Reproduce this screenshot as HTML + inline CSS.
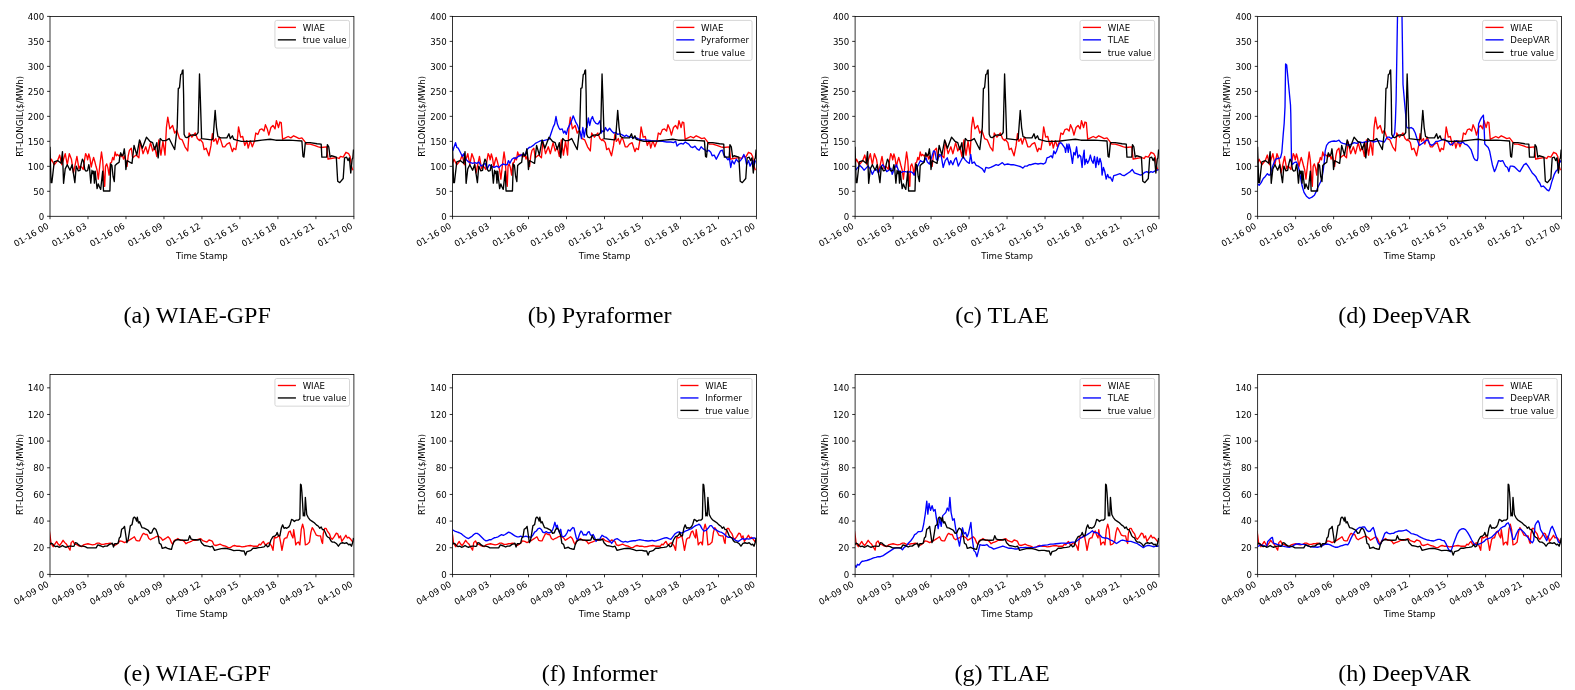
<!DOCTYPE html>
<html><head><meta charset="utf-8"><title>Figure</title>
<style>html,body{margin:0;padding:0;background:#fff;width:1575px;height:690px;overflow:hidden}svg{display:block;will-change:transform}</style>
</head><body>
<svg width="1575" height="690" viewBox="0 0 1575 690">
<g font-family="'DejaVu Sans', sans-serif" font-size="8.6" fill="#000">
<clipPath id="ca"><rect x="50" y="16.4" width="303.9" height="199.9"/></clipPath>
<polyline clip-path="url(#ca)" fill="none" stroke="#ff0000" stroke-width="1.35" stroke-linejoin="round" points="49.93,163.33 51.44,159.2 54.2,164.71 57.64,160.58 59.7,155.07 61.77,164.71 65.21,153.7 67.28,164.71 69.34,153.7 71.41,159.2 73.47,172.97 76.91,156.45 78.98,168.84 80,166.3 81.6,167 83.2,169.5 84.4,160.7 85.6,153.6 86.8,156 87.6,159.9 88.8,154 90,158.3 91.2,167.1 92.4,161.5 93.6,157.5 94.8,161.5 96,166.3 97.1,170.3 98.3,179.1 99.9,164.7 101.5,152 102.7,160.7 103.9,179.9 104.7,186.3 105.5,166.3 106.7,163.9 107.9,167.9 109.1,175.1 110.3,163.1 111.5,162.3 112.7,157.5 113.9,159.9 115.1,152 116.3,155.9 117.5,154.4 118.7,155.9 119.9,155.2 121.1,156.7 122.3,154.4 123.5,159.1 124.7,156 125.9,160.7 127,166.3 128.2,156 129.4,150.4 131.3,148.19 132.67,157.83 136.12,155.07 138.87,157.83 140.25,141.3 143,153.7 145.75,146.81 147.82,153.7 150.57,142.68 152.64,150.94 154.7,146.81 156.77,156.45 158.83,139.93 160.9,155.07 162.96,141.3 165.03,155.07 166.41,127.54 167.78,117.21 169.85,128.91 172.6,125.47 174.67,133.04 176.73,130.29 179.49,138.55 182.24,139.93 184.99,146.81 187.75,150.94 189.12,133.04 191.88,137.17 195.32,133.04 197.38,138.55 199.45,140.62 200,139.24 202.75,142.68 204.13,149.57 206.2,148.19 208.95,155.76 211.02,145.44 212.39,133.73 213.77,141.31 215.83,138.55 217.21,144.06 219.28,137.18 220.65,139.93 222.72,146.81 224.78,146.81 226.85,144.06 229.6,142.68 232.36,151.63 233.73,148.19 235.8,149.57 237.18,141.31 238.55,126.85 240.62,137.18 242.68,136.49 244.75,145.44 246.81,140.62 248.19,148.19 250.26,140.62 252.32,146.81 254.39,141.31 255.76,133.05 257.83,134.42 259.89,129.6 261.96,128.91 264.02,130.98 265.4,124.78 267.47,129.6 268.84,135.11 270.91,127.54 272.97,125.47 275.04,128.91 276.42,120.65 278.48,127.54 279.86,122.03 281.24,122.72 282.61,139.24 285.37,137.86 288.12,136.49 290.87,137.86 293.63,135.8 296.38,137.18 299.14,138.55 301.89,137.86 304.64,141.31 306.71,144.06 310.15,144.06 314.28,145.44 318.41,146.81 321.17,147.5 326.67,146.81 328.05,159.21 330.8,158.52 334.93,157.83 337.69,157.83 339.06,158.52 340.44,156.45 343.2,157.14 345.95,152.32 348.7,153.7 350.08,156.45 351.46,166.09 352.83,170.22"/>
<polyline clip-path="url(#ca)" fill="none" stroke="#000000" stroke-width="1.35" stroke-linejoin="round" points="49.93,146.81 51.03,182.61 51.86,182.61 54.2,161.96 57.64,160.58 61.08,163.33 62.46,151.63 63.56,183.3 65.21,168.84 67.28,164.71 70.03,170.22 72.09,164.71 74.85,182.61 76.22,166.09 78.29,170.91 80,170.3 81.2,163.9 82.4,159.1 83.6,161.5 84.8,169.5 86,171.1 87.6,170.7 88.8,164.7 89.6,168.7 90.8,183.1 92,170.3 92.8,173.5 93.6,171.1 94.4,183.1 95.2,171.1 95.9,178.3 97.1,188.6 98.3,183.9 99.5,187 100.7,189.4 101.9,178.3 102.7,171.1 103.5,191 109.9,191 110.7,163.9 111.9,165.5 113.1,176.7 114.3,181.5 115.1,165.5 116.7,163.9 117.9,163.1 119.1,162.3 119.9,155.9 120.7,152.8 121.9,155.9 123.1,155.2 124.3,148.8 125.1,155.9 125.9,169.5 127.1,160.7 128.6,161.5 131.99,163.33 134.05,145.43 136.8,155.07 139.56,139.93 142.31,148.19 146.44,137.17 149.88,141.3 152.64,142.68 154.7,149.57 156.77,142.68 158.14,157.83 160.21,138.55 162.28,140.62 165.72,140.62 169.16,138.55 172.6,145.43 174.67,149.57 176.73,131.67 177.2,127.3 178.3,88.4 179.5,87.8 180.7,74.5 181.8,73.9 182.4,70.4 183,69.9 183.6,94.8 184.1,134.2 185.3,137.1 187,137.7 189,136.4 190,135.4 192.8,134.8 195.2,135.4 196.9,134.2 198.1,132.5 199.5,74 200.4,100 201.6,138 201.38,138.55 211.7,139.93 213.08,138.55 215.15,110.33 216.52,127.54 217.9,136.49 220.65,137.86 226.85,137.86 228.91,133.73 230.29,138.55 232.36,135.8 233.73,139.24 235.8,139.93 241.31,141.31 248.19,141.31 255.08,141.03 261.96,140.2 270.22,139.24 275.73,140.2 282.61,140.2 289.5,140.2 296.38,140.62 301.89,141.03 302.99,156.45 303.95,157.14 305.33,142.68 310.15,142.68 317.03,143.78 321.17,144.06 321.85,157.14 326.67,157.14 327.36,144.75 328.74,146.81 330.11,157.14 331.49,155.76 336.31,157.14 337.69,181.24 339.75,182.61 343.2,178.48 344.57,157.83 346.64,157.14 348.01,160.58 349.39,157.83 350.77,172.97 352.14,159.21 352.83,157.83 353.52,149.57"/>
<rect x="50" y="16.4" width="303.9" height="199.9" fill="none" stroke="#000" stroke-width="0.8"/>
<text x="44.2" y="219.6" text-anchor="end">0</text>
<text x="44.2" y="194.61" text-anchor="end">50</text>
<text x="44.2" y="169.63" text-anchor="end">100</text>
<text x="44.2" y="144.64" text-anchor="end">150</text>
<text x="44.2" y="119.65" text-anchor="end">200</text>
<text x="44.2" y="94.66" text-anchor="end">250</text>
<text x="44.2" y="69.67" text-anchor="end">300</text>
<text x="44.2" y="44.69" text-anchor="end">350</text>
<text x="44.2" y="19.7" text-anchor="end">400</text>
<text transform="translate(49.4,227.8) rotate(-30)" text-anchor="end">01-16 00</text>
<text transform="translate(87.39,227.8) rotate(-30)" text-anchor="end">01-16 03</text>
<text transform="translate(125.38,227.8) rotate(-30)" text-anchor="end">01-16 06</text>
<text transform="translate(163.36,227.8) rotate(-30)" text-anchor="end">01-16 09</text>
<text transform="translate(201.35,227.8) rotate(-30)" text-anchor="end">01-16 12</text>
<text transform="translate(239.34,227.8) rotate(-30)" text-anchor="end">01-16 15</text>
<text transform="translate(277.32,227.8) rotate(-30)" text-anchor="end">01-16 18</text>
<text transform="translate(315.31,227.8) rotate(-30)" text-anchor="end">01-16 21</text>
<text transform="translate(353.3,227.8) rotate(-30)" text-anchor="end">01-17 00</text>
<path d="M47.1,216.3H50 M47.1,191.31H50 M47.1,166.33H50 M47.1,141.34H50 M47.1,116.35H50 M47.1,91.36H50 M47.1,66.38H50 M47.1,41.39H50 M47.1,16.4H50 M50,216.3V219.2 M87.99,216.3V219.2 M125.97,216.3V219.2 M163.96,216.3V219.2 M201.95,216.3V219.2 M239.94,216.3V219.2 M277.92,216.3V219.2 M315.91,216.3V219.2 M353.9,216.3V219.2" stroke="#000" stroke-width="0.8" fill="none"/>
<text x="201.95" y="259" text-anchor="middle">Time Stamp</text>
<text transform="translate(22.8,116.35) rotate(-90)" text-anchor="middle">RT-LONGIL($/MWh)</text>
<rect x="274.93" y="20.4" width="74.57" height="27.65" rx="1.8" fill="#fff" fill-opacity="0.8" stroke="#ccc" stroke-width="0.8"/>
<path d="M277.83,27.4h18.1" stroke="#ff0000" stroke-width="1.35"/>
<text x="302.63" y="30.6">WIAE</text>
<path d="M277.83,39.85h18.1" stroke="#000000" stroke-width="1.35"/>
<text x="302.63" y="43.05">true value</text>
</g>
<text x="197.2" y="322.8" text-anchor="middle" font-family="'Liberation Serif', serif" font-size="24.1">(a) WIAE-GPF</text>
<g font-family="'DejaVu Sans', sans-serif" font-size="8.6" fill="#000">
<clipPath id="cb"><rect x="452.55" y="16.4" width="303.9" height="199.9"/></clipPath>
<polyline clip-path="url(#cb)" fill="none" stroke="#ff0000" stroke-width="1.35" stroke-linejoin="round" points="452.48,163.33 453.99,159.2 456.75,164.71 460.19,160.58 462.25,155.07 464.32,164.71 467.76,153.7 469.83,164.71 471.89,153.7 473.96,159.2 476.02,172.97 479.46,156.45 481.53,168.84 482.55,166.3 484.15,167 485.75,169.5 486.95,160.7 488.15,153.6 489.35,156 490.15,159.9 491.35,154 492.55,158.3 493.75,167.1 494.95,161.5 496.15,157.5 497.35,161.5 498.55,166.3 499.65,170.3 500.85,179.1 502.45,164.7 504.05,152 505.25,160.7 506.45,179.9 507.25,186.3 508.05,166.3 509.25,163.9 510.45,167.9 511.65,175.1 512.85,163.1 514.05,162.3 515.25,157.5 516.45,159.9 517.65,152 518.85,155.9 520.05,154.4 521.25,155.9 522.45,155.2 523.65,156.7 524.85,154.4 526.05,159.1 527.25,156 528.45,160.7 529.55,166.3 530.75,156 531.95,150.4 533.85,148.19 535.22,157.83 538.67,155.07 541.42,157.83 542.8,141.3 545.55,153.7 548.3,146.81 550.37,153.7 553.12,142.68 555.19,150.94 557.25,146.81 559.32,156.45 561.38,139.93 563.45,155.07 565.51,141.3 567.58,155.07 568.96,127.54 570.33,117.21 572.4,128.91 575.15,125.47 577.22,133.04 579.28,130.29 582.04,138.55 584.79,139.93 587.54,146.81 590.3,150.94 591.67,133.04 594.43,137.17 597.87,133.04 599.93,138.55 602,140.62 602.55,139.24 605.3,142.68 606.68,149.57 608.75,148.19 611.5,155.76 613.57,145.44 614.94,133.73 616.32,141.31 618.38,138.55 619.76,144.06 621.83,137.18 623.2,139.93 625.27,146.81 627.33,146.81 629.4,144.06 632.15,142.68 634.91,151.63 636.28,148.19 638.35,149.57 639.73,141.31 641.1,126.85 643.17,137.18 645.23,136.49 647.3,145.44 649.36,140.62 650.74,148.19 652.81,140.62 654.87,146.81 656.94,141.31 658.31,133.05 660.38,134.42 662.44,129.6 664.51,128.91 666.57,130.98 667.95,124.78 670.02,129.6 671.39,135.11 673.46,127.54 675.52,125.47 677.59,128.91 678.97,120.65 681.03,127.54 682.41,122.03 683.79,122.72 685.16,139.24 687.92,137.86 690.67,136.49 693.42,137.86 696.18,135.8 698.93,137.18 701.69,138.55 704.44,137.86 707.19,141.31 709.26,144.06 712.7,144.06 716.83,145.44 720.96,146.81 723.72,147.5 729.22,146.81 730.6,159.21 733.35,158.52 737.48,157.83 740.24,157.83 741.61,158.52 742.99,156.45 745.75,157.14 748.5,152.32 751.25,153.7 752.63,156.45 754.01,166.09 755.38,170.22"/>
<polyline clip-path="url(#cb)" fill="none" stroke="#0000ff" stroke-width="1.35" stroke-linejoin="round" points="452.75,150.93 455.51,142.67 456.88,147.49 458.26,148.18 460.32,152.31 462.39,156.44 463.77,153.69 465.14,157.82 466.52,159.88 468.58,161.94 470.65,162.63 472.71,163.32 474.78,162.63 476.84,163.32 478.91,161.94 480.97,166.07 483.04,164.7 485.1,163.32 487.17,168.83 489.23,164.7 491.3,166.07 494.05,167.45 496.8,166.07 498.87,167.45 500.93,165.39 503,164.01 505.06,164.7 507.13,164.7 508.5,160.57 509.88,163.32 511.94,159.19 514.01,157.82 516.07,158.5 518.14,156.44 520.2,155.75 522.27,154.37 525.02,155.06 527.09,149.56 529.15,147.49 531.22,146.8 533.28,145.43 535.35,143.36 538.1,141.98 540.85,140.61 543.61,140.61 546.36,139.92 549.11,139.23 551.18,133.04 553.24,126.84 554.62,124.09 555.99,116.52 557.37,124.09 558.75,127.53 560.12,129.6 562.19,128.91 563.57,133.04 564.94,130.97 566.32,134.41 567.7,128.91 569.07,126.15 570.45,123.4 571.83,119.96 573.2,115.83 574.58,119.27 575.95,122.71 577.33,124.78 578.71,128.91 580.08,131.66 581.46,138.54 582.84,127.53 584.21,137.17 585.59,128.91 586.97,127.53 588.34,117.9 589.72,125.47 591.1,119.27 592.47,116.52 593.85,120.65 595.91,123.4 597.98,124.09 600.04,120.65 601.42,133.04 602,130.98 604.07,131.67 605.44,127.54 607.51,130.98 609.57,128.23 611.64,130.98 613.7,133.05 615.77,132.36 617.83,134.42 619.9,133.73 622.65,135.11 624.72,136.49 626.1,135.11 628.16,136.49 630.91,137.18 633.67,137.86 636.42,137.86 639.18,139.24 641.93,139.93 644.68,139.93 647.44,140.2 651.57,140.62 657.08,141.03 662.58,141.31 666.71,141.99 670.84,141.99 673.6,142.68 675.66,141.31 677.04,146.13 679.11,144.06 681.17,143.37 683.24,144.06 685.3,141.99 687.37,143.37 688.74,144.06 690.81,146.81 692.87,147.5 694.94,146.13 697,148.88 699.07,150.26 701.14,146.81 703.2,148.88 704.58,149.57 706.64,151.63 708.71,150.26 710.77,152.32 712.15,155.76 714.22,155.08 716.28,159.21 718.35,155.08 720.41,150.94 722.48,150.26 723.85,155.08 725.92,157.14 727.98,159.89 729.36,157.83 730.74,167.47 732.11,160.58 734.18,164.02 736.25,159.21 738.31,161.96 740.38,160.58 742.44,157.83 743.82,154.39 745.2,157.83 746.57,164.71 748.64,160.58 750.01,166.09 751.39,163.34 752.77,160.58 754.14,164.71 755.52,160.58"/>
<polyline clip-path="url(#cb)" fill="none" stroke="#000000" stroke-width="1.35" stroke-linejoin="round" points="452.48,146.81 453.58,182.61 454.41,182.61 456.75,161.96 460.19,160.58 463.63,163.33 465.01,151.63 466.11,183.3 467.76,168.84 469.83,164.71 472.58,170.22 474.64,164.71 477.4,182.61 478.77,166.09 480.84,170.91 482.55,170.3 483.75,163.9 484.95,159.1 486.15,161.5 487.35,169.5 488.55,171.1 490.15,170.7 491.35,164.7 492.15,168.7 493.35,183.1 494.55,170.3 495.35,173.5 496.15,171.1 496.95,183.1 497.75,171.1 498.45,178.3 499.65,188.6 500.85,183.9 502.05,187 503.25,189.4 504.45,178.3 505.25,171.1 506.05,191 512.45,191 513.25,163.9 514.45,165.5 515.65,176.7 516.85,181.5 517.65,165.5 519.25,163.9 520.45,163.1 521.65,162.3 522.45,155.9 523.25,152.8 524.45,155.9 525.65,155.2 526.85,148.8 527.65,155.9 528.45,169.5 529.65,160.7 531.15,161.5 534.54,163.33 536.6,145.43 539.35,155.07 542.11,139.93 544.86,148.19 548.99,137.17 552.43,141.3 555.19,142.68 557.25,149.57 559.32,142.68 560.69,157.83 562.76,138.55 564.83,140.62 568.27,140.62 571.71,138.55 575.15,145.43 577.22,149.57 579.28,131.67 579.75,127.3 580.85,88.4 582.05,87.8 583.25,74.5 584.35,73.9 584.95,70.4 585.55,69.9 586.15,94.8 586.65,134.2 587.85,137.1 589.55,137.7 591.55,136.4 592.55,135.4 595.35,134.8 597.75,135.4 599.45,134.2 600.65,132.5 602.05,74 602.95,100 604.15,138 603.93,138.55 614.25,139.93 615.63,138.55 617.7,110.33 619.07,127.54 620.45,136.49 623.2,137.86 629.4,137.86 631.46,133.73 632.84,138.55 634.91,135.8 636.28,139.24 638.35,139.93 643.86,141.31 650.74,141.31 657.63,141.03 664.51,140.2 672.77,139.24 678.28,140.2 685.16,140.2 692.05,140.2 698.93,140.62 704.44,141.03 705.54,156.45 706.5,157.14 707.88,142.68 712.7,142.68 719.58,143.78 723.72,144.06 724.4,157.14 729.22,157.14 729.91,144.75 731.29,146.81 732.66,157.14 734.04,155.76 738.86,157.14 740.24,181.24 742.3,182.61 745.75,178.48 747.12,157.83 749.19,157.14 750.56,160.58 751.94,157.83 753.32,172.97 754.69,159.21 755.38,157.83 756.07,149.57"/>
<rect x="452.55" y="16.4" width="303.9" height="199.9" fill="none" stroke="#000" stroke-width="0.8"/>
<text x="446.75" y="219.6" text-anchor="end">0</text>
<text x="446.75" y="194.61" text-anchor="end">50</text>
<text x="446.75" y="169.63" text-anchor="end">100</text>
<text x="446.75" y="144.64" text-anchor="end">150</text>
<text x="446.75" y="119.65" text-anchor="end">200</text>
<text x="446.75" y="94.66" text-anchor="end">250</text>
<text x="446.75" y="69.67" text-anchor="end">300</text>
<text x="446.75" y="44.69" text-anchor="end">350</text>
<text x="446.75" y="19.7" text-anchor="end">400</text>
<text transform="translate(451.95,227.8) rotate(-30)" text-anchor="end">01-16 00</text>
<text transform="translate(489.94,227.8) rotate(-30)" text-anchor="end">01-16 03</text>
<text transform="translate(527.92,227.8) rotate(-30)" text-anchor="end">01-16 06</text>
<text transform="translate(565.91,227.8) rotate(-30)" text-anchor="end">01-16 09</text>
<text transform="translate(603.9,227.8) rotate(-30)" text-anchor="end">01-16 12</text>
<text transform="translate(641.89,227.8) rotate(-30)" text-anchor="end">01-16 15</text>
<text transform="translate(679.88,227.8) rotate(-30)" text-anchor="end">01-16 18</text>
<text transform="translate(717.86,227.8) rotate(-30)" text-anchor="end">01-16 21</text>
<text transform="translate(755.85,227.8) rotate(-30)" text-anchor="end">01-17 00</text>
<path d="M449.65,216.3H452.55 M449.65,191.31H452.55 M449.65,166.33H452.55 M449.65,141.34H452.55 M449.65,116.35H452.55 M449.65,91.36H452.55 M449.65,66.38H452.55 M449.65,41.39H452.55 M449.65,16.4H452.55 M452.55,216.3V219.2 M490.54,216.3V219.2 M528.52,216.3V219.2 M566.51,216.3V219.2 M604.5,216.3V219.2 M642.49,216.3V219.2 M680.48,216.3V219.2 M718.46,216.3V219.2 M756.45,216.3V219.2" stroke="#000" stroke-width="0.8" fill="none"/>
<text x="604.5" y="259" text-anchor="middle">Time Stamp</text>
<text transform="translate(425.35,116.35) rotate(-90)" text-anchor="middle">RT-LONGIL($/MWh)</text>
<rect x="673.39" y="20.4" width="78.66" height="40" rx="1.8" fill="#fff" fill-opacity="0.8" stroke="#ccc" stroke-width="0.8"/>
<path d="M676.29,27.4h18.1" stroke="#ff0000" stroke-width="1.35"/>
<text x="701.09" y="30.6">WIAE</text>
<path d="M676.29,39.85h18.1" stroke="#0000ff" stroke-width="1.35"/>
<text x="701.09" y="43.05">Pyraformer</text>
<path d="M676.29,52.3h18.1" stroke="#000000" stroke-width="1.35"/>
<text x="701.09" y="55.5">true value</text>
</g>
<text x="599.65" y="322.8" text-anchor="middle" font-family="'Liberation Serif', serif" font-size="24.1">(b) Pyraformer</text>
<g font-family="'DejaVu Sans', sans-serif" font-size="8.6" fill="#000">
<clipPath id="cc"><rect x="855.1" y="16.4" width="303.9" height="199.9"/></clipPath>
<polyline clip-path="url(#cc)" fill="none" stroke="#ff0000" stroke-width="1.35" stroke-linejoin="round" points="855.03,163.33 856.54,159.2 859.3,164.71 862.74,160.58 864.8,155.07 866.87,164.71 870.31,153.7 872.38,164.71 874.44,153.7 876.51,159.2 878.57,172.97 882.01,156.45 884.08,168.84 885.1,166.3 886.7,167 888.3,169.5 889.5,160.7 890.7,153.6 891.9,156 892.7,159.9 893.9,154 895.1,158.3 896.3,167.1 897.5,161.5 898.7,157.5 899.9,161.5 901.1,166.3 902.2,170.3 903.4,179.1 905,164.7 906.6,152 907.8,160.7 909,179.9 909.8,186.3 910.6,166.3 911.8,163.9 913,167.9 914.2,175.1 915.4,163.1 916.6,162.3 917.8,157.5 919,159.9 920.2,152 921.4,155.9 922.6,154.4 923.8,155.9 925,155.2 926.2,156.7 927.4,154.4 928.6,159.1 929.8,156 931,160.7 932.1,166.3 933.3,156 934.5,150.4 936.4,148.19 937.77,157.83 941.22,155.07 943.97,157.83 945.35,141.3 948.1,153.7 950.85,146.81 952.92,153.7 955.67,142.68 957.74,150.94 959.8,146.81 961.87,156.45 963.93,139.93 966,155.07 968.06,141.3 970.13,155.07 971.51,127.54 972.88,117.21 974.95,128.91 977.7,125.47 979.77,133.04 981.83,130.29 984.59,138.55 987.34,139.93 990.09,146.81 992.85,150.94 994.22,133.04 996.98,137.17 1000.42,133.04 1002.48,138.55 1004.55,140.62 1005.1,139.24 1007.85,142.68 1009.23,149.57 1011.3,148.19 1014.05,155.76 1016.12,145.44 1017.49,133.73 1018.87,141.31 1020.93,138.55 1022.31,144.06 1024.38,137.18 1025.75,139.93 1027.82,146.81 1029.88,146.81 1031.95,144.06 1034.7,142.68 1037.46,151.63 1038.83,148.19 1040.9,149.57 1042.28,141.31 1043.65,126.85 1045.72,137.18 1047.78,136.49 1049.85,145.44 1051.91,140.62 1053.29,148.19 1055.36,140.62 1057.42,146.81 1059.49,141.31 1060.86,133.05 1062.93,134.42 1064.99,129.6 1067.06,128.91 1069.12,130.98 1070.5,124.78 1072.57,129.6 1073.94,135.11 1076.01,127.54 1078.07,125.47 1080.14,128.91 1081.52,120.65 1083.58,127.54 1084.96,122.03 1086.34,122.72 1087.71,139.24 1090.47,137.86 1093.22,136.49 1095.97,137.86 1098.73,135.8 1101.48,137.18 1104.24,138.55 1106.99,137.86 1109.74,141.31 1111.81,144.06 1115.25,144.06 1119.38,145.44 1123.51,146.81 1126.27,147.5 1131.77,146.81 1133.15,159.21 1135.9,158.52 1140.03,157.83 1142.79,157.83 1144.16,158.52 1145.54,156.45 1148.3,157.14 1151.05,152.32 1153.8,153.7 1155.18,156.45 1156.56,166.09 1157.93,170.22"/>
<polyline clip-path="url(#cc)" fill="none" stroke="#0000ff" stroke-width="1.35" stroke-linejoin="round" points="855.75,170.2 857.82,167.45 859.88,165.39 861.95,167.45 864.01,170.2 866.08,168.14 868.14,166.07 870.21,168.83 872.27,174.33 874.34,170.2 876.4,169.52 878.47,172.96 880.53,167.45 882.6,164.7 884.66,167.45 886.73,171.58 888.79,170.2 890.86,168.14 892.23,174.33 894.3,168.83 896.36,164.7 898.43,170.2 900.49,172.96 902.56,171.58 905.31,171.58 908.06,172.27 910.13,171.58 912.19,172.27 914.26,175.02 916.32,168.83 918.39,164.7 920.45,160.57 922.52,161.94 924.58,160.57 925.96,157.82 927.33,161.94 929.4,164.01 931.46,157.82 933.53,150.93 934.9,151.62 936.28,159.19 937.66,160.57 939.03,154.37 941.1,155.06 943.16,167.45 945.23,160.57 947.29,157.82 949.36,164.7 950.74,160.57 952.8,164.7 954.87,159.19 956.24,157.82 958.31,166.07 959.68,163.32 961.75,159.19 963.12,156.44 965.19,159.88 967.25,161.94 969.32,163.32 970.7,154.37 972.07,163.32 974.14,161.94 976.2,165.39 978.27,166.07 980.33,167.45 982.4,168.83 984.46,172.27 985.84,167.45 988.59,168.14 990.66,167.45 993.41,166.07 996.16,164.7 998.23,165.39 1000.29,164.01 1002.36,162.63 1004.42,164.7 1005,164.7 1007.75,164.01 1010.51,164.7 1013.26,164.7 1016.01,165.39 1018.77,166.07 1020.83,166.76 1022.9,168.14 1024.96,166.07 1027.02,166.07 1029.09,164.7 1031.15,164.7 1033.22,164.01 1035.28,163.32 1038.04,164.01 1040.79,163.32 1043.54,164.01 1045.61,162.63 1046.98,157.82 1049.05,157.13 1051.11,155.75 1052.49,157.82 1053.87,150.93 1055.24,153.69 1056.62,150.93 1058,146.8 1059.37,143.36 1060.75,142.67 1062.13,144.05 1063.5,146.11 1064.88,148.18 1065.57,152.31 1066.94,144.05 1068.32,152.31 1069.01,144.05 1070.39,149.56 1072.45,163.32 1073.83,152.31 1075.2,155.06 1076.58,146.8 1077.96,157.82 1079.33,155.06 1080.71,156.44 1082.09,167.45 1082.78,159.19 1084.15,150.24 1084.84,164.7 1086.22,159.19 1087.59,163.32 1088.97,160.57 1090.35,155.06 1091.72,160.57 1093.1,163.32 1094.48,156.44 1095.85,167.45 1097.23,157.13 1098.61,164.7 1099.98,158.5 1101.36,163.32 1102.05,175.02 1103.42,167.45 1104.8,171.58 1106.18,179.15 1107.55,174.33 1108.93,177.78 1110.31,177.09 1112.37,181.22 1113.75,175.71 1115.81,175.02 1117.88,174.33 1119.94,173.65 1122.01,175.02 1124.07,175.71 1126.14,174.33 1128.2,172.96 1130.27,171.58 1132.33,169.52 1134.4,172.96 1136.46,173.65 1138.53,174.33 1140.59,175.02 1142.66,174.33 1144.72,172.27 1146.79,171.58 1148.85,172.96 1150.91,171.58 1152.98,172.27 1155.04,170.89 1157.11,170.2 1158.49,169.52"/>
<polyline clip-path="url(#cc)" fill="none" stroke="#000000" stroke-width="1.35" stroke-linejoin="round" points="855.03,146.81 856.13,182.61 856.96,182.61 859.3,161.96 862.74,160.58 866.18,163.33 867.56,151.63 868.66,183.3 870.31,168.84 872.38,164.71 875.13,170.22 877.19,164.71 879.95,182.61 881.32,166.09 883.39,170.91 885.1,170.3 886.3,163.9 887.5,159.1 888.7,161.5 889.9,169.5 891.1,171.1 892.7,170.7 893.9,164.7 894.7,168.7 895.9,183.1 897.1,170.3 897.9,173.5 898.7,171.1 899.5,183.1 900.3,171.1 901,178.3 902.2,188.6 903.4,183.9 904.6,187 905.8,189.4 907,178.3 907.8,171.1 908.6,191 915,191 915.8,163.9 917,165.5 918.2,176.7 919.4,181.5 920.2,165.5 921.8,163.9 923,163.1 924.2,162.3 925,155.9 925.8,152.8 927,155.9 928.2,155.2 929.4,148.8 930.2,155.9 931,169.5 932.2,160.7 933.7,161.5 937.09,163.33 939.15,145.43 941.9,155.07 944.66,139.93 947.41,148.19 951.54,137.17 954.98,141.3 957.74,142.68 959.8,149.57 961.87,142.68 963.24,157.83 965.31,138.55 967.38,140.62 970.82,140.62 974.26,138.55 977.7,145.43 979.77,149.57 981.83,131.67 982.3,127.3 983.4,88.4 984.6,87.8 985.8,74.5 986.9,73.9 987.5,70.4 988.1,69.9 988.7,94.8 989.2,134.2 990.4,137.1 992.1,137.7 994.1,136.4 995.1,135.4 997.9,134.8 1000.3,135.4 1002,134.2 1003.2,132.5 1004.6,74 1005.5,100 1006.7,138 1006.48,138.55 1016.8,139.93 1018.18,138.55 1020.25,110.33 1021.62,127.54 1023,136.49 1025.75,137.86 1031.95,137.86 1034.01,133.73 1035.39,138.55 1037.46,135.8 1038.83,139.24 1040.9,139.93 1046.41,141.31 1053.29,141.31 1060.18,141.03 1067.06,140.2 1075.32,139.24 1080.83,140.2 1087.71,140.2 1094.6,140.2 1101.48,140.62 1106.99,141.03 1108.09,156.45 1109.05,157.14 1110.43,142.68 1115.25,142.68 1122.13,143.78 1126.27,144.06 1126.95,157.14 1131.77,157.14 1132.46,144.75 1133.84,146.81 1135.21,157.14 1136.59,155.76 1141.41,157.14 1142.79,181.24 1144.85,182.61 1148.3,178.48 1149.67,157.83 1151.74,157.14 1153.11,160.58 1154.49,157.83 1155.87,172.97 1157.24,159.21 1157.93,157.83 1158.62,149.57"/>
<rect x="855.1" y="16.4" width="303.9" height="199.9" fill="none" stroke="#000" stroke-width="0.8"/>
<text x="849.3" y="219.6" text-anchor="end">0</text>
<text x="849.3" y="194.61" text-anchor="end">50</text>
<text x="849.3" y="169.63" text-anchor="end">100</text>
<text x="849.3" y="144.64" text-anchor="end">150</text>
<text x="849.3" y="119.65" text-anchor="end">200</text>
<text x="849.3" y="94.66" text-anchor="end">250</text>
<text x="849.3" y="69.67" text-anchor="end">300</text>
<text x="849.3" y="44.69" text-anchor="end">350</text>
<text x="849.3" y="19.7" text-anchor="end">400</text>
<text transform="translate(854.5,227.8) rotate(-30)" text-anchor="end">01-16 00</text>
<text transform="translate(892.49,227.8) rotate(-30)" text-anchor="end">01-16 03</text>
<text transform="translate(930.48,227.8) rotate(-30)" text-anchor="end">01-16 06</text>
<text transform="translate(968.46,227.8) rotate(-30)" text-anchor="end">01-16 09</text>
<text transform="translate(1006.45,227.8) rotate(-30)" text-anchor="end">01-16 12</text>
<text transform="translate(1044.44,227.8) rotate(-30)" text-anchor="end">01-16 15</text>
<text transform="translate(1082.43,227.8) rotate(-30)" text-anchor="end">01-16 18</text>
<text transform="translate(1120.41,227.8) rotate(-30)" text-anchor="end">01-16 21</text>
<text transform="translate(1158.4,227.8) rotate(-30)" text-anchor="end">01-17 00</text>
<path d="M852.2,216.3H855.1 M852.2,191.31H855.1 M852.2,166.33H855.1 M852.2,141.34H855.1 M852.2,116.35H855.1 M852.2,91.36H855.1 M852.2,66.38H855.1 M852.2,41.39H855.1 M852.2,16.4H855.1 M855.1,216.3V219.2 M893.09,216.3V219.2 M931.08,216.3V219.2 M969.06,216.3V219.2 M1007.05,216.3V219.2 M1045.04,216.3V219.2 M1083.03,216.3V219.2 M1121.01,216.3V219.2 M1159,216.3V219.2" stroke="#000" stroke-width="0.8" fill="none"/>
<text x="1007.05" y="259" text-anchor="middle">Time Stamp</text>
<text transform="translate(827.9,116.35) rotate(-90)" text-anchor="middle">RT-LONGIL($/MWh)</text>
<rect x="1080.03" y="20.4" width="74.57" height="40" rx="1.8" fill="#fff" fill-opacity="0.8" stroke="#ccc" stroke-width="0.8"/>
<path d="M1082.93,27.4h18.1" stroke="#ff0000" stroke-width="1.35"/>
<text x="1107.73" y="30.6">WIAE</text>
<path d="M1082.93,39.85h18.1" stroke="#0000ff" stroke-width="1.35"/>
<text x="1107.73" y="43.05">TLAE</text>
<path d="M1082.93,52.3h18.1" stroke="#000000" stroke-width="1.35"/>
<text x="1107.73" y="55.5">true value</text>
</g>
<text x="1002.1" y="322.8" text-anchor="middle" font-family="'Liberation Serif', serif" font-size="24.1">(c) TLAE</text>
<g font-family="'DejaVu Sans', sans-serif" font-size="8.6" fill="#000">
<clipPath id="cd"><rect x="1257.65" y="16.4" width="303.9" height="199.9"/></clipPath>
<polyline clip-path="url(#cd)" fill="none" stroke="#ff0000" stroke-width="1.35" stroke-linejoin="round" points="1257.58,163.33 1259.09,159.2 1261.85,164.71 1265.29,160.58 1267.35,155.07 1269.42,164.71 1272.86,153.7 1274.93,164.71 1276.99,153.7 1279.06,159.2 1281.12,172.97 1284.56,156.45 1286.63,168.84 1287.65,166.3 1289.25,167 1290.85,169.5 1292.05,160.7 1293.25,153.6 1294.45,156 1295.25,159.9 1296.45,154 1297.65,158.3 1298.85,167.1 1300.05,161.5 1301.25,157.5 1302.45,161.5 1303.65,166.3 1304.75,170.3 1305.95,179.1 1307.55,164.7 1309.15,152 1310.35,160.7 1311.55,179.9 1312.35,186.3 1313.15,166.3 1314.35,163.9 1315.55,167.9 1316.75,175.1 1317.95,163.1 1319.15,162.3 1320.35,157.5 1321.55,159.9 1322.75,152 1323.95,155.9 1325.15,154.4 1326.35,155.9 1327.55,155.2 1328.75,156.7 1329.95,154.4 1331.15,159.1 1332.35,156 1333.55,160.7 1334.65,166.3 1335.85,156 1337.05,150.4 1338.95,148.19 1340.32,157.83 1343.77,155.07 1346.52,157.83 1347.9,141.3 1350.65,153.7 1353.4,146.81 1355.47,153.7 1358.22,142.68 1360.29,150.94 1362.35,146.81 1364.42,156.45 1366.48,139.93 1368.55,155.07 1370.61,141.3 1372.68,155.07 1374.06,127.54 1375.43,117.21 1377.5,128.91 1380.25,125.47 1382.32,133.04 1384.38,130.29 1387.14,138.55 1389.89,139.93 1392.64,146.81 1395.4,150.94 1396.77,133.04 1399.53,137.17 1402.97,133.04 1405.03,138.55 1407.1,140.62 1407.65,139.24 1410.4,142.68 1411.78,149.57 1413.85,148.19 1416.6,155.76 1418.67,145.44 1420.04,133.73 1421.42,141.31 1423.48,138.55 1424.86,144.06 1426.93,137.18 1428.3,139.93 1430.37,146.81 1432.43,146.81 1434.5,144.06 1437.25,142.68 1440.01,151.63 1441.38,148.19 1443.45,149.57 1444.83,141.31 1446.2,126.85 1448.27,137.18 1450.33,136.49 1452.4,145.44 1454.46,140.62 1455.84,148.19 1457.91,140.62 1459.97,146.81 1462.04,141.31 1463.41,133.05 1465.48,134.42 1467.54,129.6 1469.61,128.91 1471.67,130.98 1473.05,124.78 1475.12,129.6 1476.49,135.11 1478.56,127.54 1480.62,125.47 1482.69,128.91 1484.07,120.65 1486.13,127.54 1487.51,122.03 1488.89,122.72 1490.26,139.24 1493.02,137.86 1495.77,136.49 1498.52,137.86 1501.28,135.8 1504.03,137.18 1506.79,138.55 1509.54,137.86 1512.29,141.31 1514.36,144.06 1517.8,144.06 1521.93,145.44 1526.06,146.81 1528.82,147.5 1534.32,146.81 1535.7,159.21 1538.45,158.52 1542.58,157.83 1545.34,157.83 1546.71,158.52 1548.09,156.45 1550.85,157.14 1553.6,152.32 1556.35,153.7 1557.73,156.45 1559.11,166.09 1560.48,170.22"/>
<polyline clip-path="url(#cd)" fill="none" stroke="#0000ff" stroke-width="1.35" stroke-linejoin="round" points="1257.75,183.97 1259.13,185.35 1261.19,182.59 1263.26,178.46 1265.32,176.4 1267.39,173.65 1268.77,175.02 1270.14,175.02 1272.21,167.45 1274.27,161.94 1275.65,159.19 1277.71,158.5 1280.47,157.82 1281.84,152.31 1283.22,134.41 1284.18,123.4 1285.01,106.88 1285.6,64 1286.7,65.1 1290.5,105 1290.79,113.77 1291.48,159.19 1292.17,164.7 1294.23,162.63 1296.3,161.94 1297.4,164.1 1298.9,168.9 1300.3,176.4 1302.1,185.8 1304,192.4 1306.4,196.2 1309.2,198.5 1312,197.1 1314.4,195.2 1315.8,192.4 1317.7,187.7 1320.5,182 1321.9,178.3 1323.4,168.9 1324.3,161.3 1325.2,150.93 1326.58,145.43 1328.65,142.67 1331.4,141.3 1334.15,141.02 1336.22,141.3 1338.97,140.2 1341.03,142.67 1343.1,143.36 1345.85,144.05 1348.61,145.43 1351.36,144.05 1354.11,142.67 1356.87,143.36 1359.62,141.98 1362.37,142.67 1365.12,141.98 1367.88,141.3 1370.63,140.61 1373.38,141.98 1376.14,141.3 1378.89,140.61 1381.64,141.3 1384.4,141.98 1387.15,137.17 1389.21,137.17 1391.28,138.54 1393.34,136.48 1394.72,133.04 1395.41,120.65 1396.1,100 1397.5,16.2 1399.8,-80 1402,16.2 1403,84.3 1404.8,105 1405.73,115.14 1406.42,126.15 1407,127.53 1409.06,128.22 1411.13,127.53 1413.19,128.91 1415.26,133.04 1417.32,139.92 1419.39,145.43 1421.45,144.05 1423.52,142.67 1425.58,140.61 1427.65,139.92 1429.71,144.05 1431.78,145.43 1433.84,144.05 1435.91,141.3 1437.97,141.3 1440.04,140.61 1442.1,139.92 1444.17,139.23 1446.23,140.61 1448.3,141.98 1450.36,144.74 1452.43,144.05 1454.49,141.3 1456.56,140.61 1458.62,142.67 1460.69,143.36 1462.75,141.98 1464.82,144.05 1466.88,144.74 1468.94,146.8 1471.01,149.56 1472.39,153.69 1473.76,157.82 1475.14,159.88 1477.2,160.57 1477.89,157.82 1478.58,124.09 1479.96,120.65 1481.33,117.9 1483.4,115.14 1484.09,127.53 1484.78,144.05 1486.15,145.43 1488.22,147.49 1489.59,150.93 1490.97,157.82 1492.35,164.7 1494.41,171.58 1495.79,168.83 1497.16,164.7 1498.54,160.57 1500.61,161.26 1502.67,160.57 1504.05,163.32 1505.42,166.07 1507.49,167.45 1508.87,171.58 1510.24,166.07 1512.31,166.07 1514.37,166.76 1516.44,168.83 1518.5,170.89 1519.88,171.58 1521.94,168.14 1524.01,164.7 1526.07,163.32 1528.14,166.07 1530.2,169.52 1532.27,172.96 1533.64,174.33 1535.71,176.4 1537.77,180.53 1539.84,183.28 1541.21,186.72 1543.28,186.03 1545.34,188.1 1547.41,190.16 1548.79,190.85 1550.16,188.1 1551.54,182.59 1552.91,178.46 1554.29,174.33 1555.67,171.58 1557.73,169.52 1559.11,163.32 1560.49,161.26 1561.17,160.57"/>
<polyline clip-path="url(#cd)" fill="none" stroke="#000000" stroke-width="1.35" stroke-linejoin="round" points="1257.58,146.81 1258.68,182.61 1259.51,182.61 1261.85,161.96 1265.29,160.58 1268.73,163.33 1270.11,151.63 1271.21,183.3 1272.86,168.84 1274.93,164.71 1277.68,170.22 1279.74,164.71 1282.5,182.61 1283.87,166.09 1285.94,170.91 1287.65,170.3 1288.85,163.9 1290.05,159.1 1291.25,161.5 1292.45,169.5 1293.65,171.1 1295.25,170.7 1296.45,164.7 1297.25,168.7 1298.45,183.1 1299.65,170.3 1300.45,173.5 1301.25,171.1 1302.05,183.1 1302.85,171.1 1303.55,178.3 1304.75,188.6 1305.95,183.9 1307.15,187 1308.35,189.4 1309.55,178.3 1310.35,171.1 1311.15,191 1317.55,191 1318.35,163.9 1319.55,165.5 1320.75,176.7 1321.95,181.5 1322.75,165.5 1324.35,163.9 1325.55,163.1 1326.75,162.3 1327.55,155.9 1328.35,152.8 1329.55,155.9 1330.75,155.2 1331.95,148.8 1332.75,155.9 1333.55,169.5 1334.75,160.7 1336.25,161.5 1339.64,163.33 1341.7,145.43 1344.45,155.07 1347.21,139.93 1349.96,148.19 1354.09,137.17 1357.53,141.3 1360.29,142.68 1362.35,149.57 1364.42,142.68 1365.79,157.83 1367.86,138.55 1369.93,140.62 1373.37,140.62 1376.81,138.55 1380.25,145.43 1382.32,149.57 1384.38,131.67 1384.85,127.3 1385.95,88.4 1387.15,87.8 1388.35,74.5 1389.45,73.9 1390.05,70.4 1390.65,69.9 1391.25,94.8 1391.75,134.2 1392.95,137.1 1394.65,137.7 1396.65,136.4 1397.65,135.4 1400.45,134.8 1402.85,135.4 1404.55,134.2 1405.75,132.5 1407.15,74 1408.05,100 1409.25,138 1409.03,138.55 1419.35,139.93 1420.73,138.55 1422.8,110.33 1424.17,127.54 1425.55,136.49 1428.3,137.86 1434.5,137.86 1436.56,133.73 1437.94,138.55 1440.01,135.8 1441.38,139.24 1443.45,139.93 1448.96,141.31 1455.84,141.31 1462.73,141.03 1469.61,140.2 1477.87,139.24 1483.38,140.2 1490.26,140.2 1497.15,140.2 1504.03,140.62 1509.54,141.03 1510.64,156.45 1511.6,157.14 1512.98,142.68 1517.8,142.68 1524.68,143.78 1528.82,144.06 1529.5,157.14 1534.32,157.14 1535.01,144.75 1536.39,146.81 1537.76,157.14 1539.14,155.76 1543.96,157.14 1545.34,181.24 1547.4,182.61 1550.85,178.48 1552.22,157.83 1554.29,157.14 1555.66,160.58 1557.04,157.83 1558.42,172.97 1559.79,159.21 1560.48,157.83 1561.17,149.57"/>
<rect x="1257.65" y="16.4" width="303.9" height="199.9" fill="none" stroke="#000" stroke-width="0.8"/>
<text x="1251.85" y="219.6" text-anchor="end">0</text>
<text x="1251.85" y="194.61" text-anchor="end">50</text>
<text x="1251.85" y="169.63" text-anchor="end">100</text>
<text x="1251.85" y="144.64" text-anchor="end">150</text>
<text x="1251.85" y="119.65" text-anchor="end">200</text>
<text x="1251.85" y="94.66" text-anchor="end">250</text>
<text x="1251.85" y="69.67" text-anchor="end">300</text>
<text x="1251.85" y="44.69" text-anchor="end">350</text>
<text x="1251.85" y="19.7" text-anchor="end">400</text>
<text transform="translate(1257.05,227.8) rotate(-30)" text-anchor="end">01-16 00</text>
<text transform="translate(1295.04,227.8) rotate(-30)" text-anchor="end">01-16 03</text>
<text transform="translate(1333.03,227.8) rotate(-30)" text-anchor="end">01-16 06</text>
<text transform="translate(1371.01,227.8) rotate(-30)" text-anchor="end">01-16 09</text>
<text transform="translate(1409,227.8) rotate(-30)" text-anchor="end">01-16 12</text>
<text transform="translate(1446.99,227.8) rotate(-30)" text-anchor="end">01-16 15</text>
<text transform="translate(1484.98,227.8) rotate(-30)" text-anchor="end">01-16 18</text>
<text transform="translate(1522.96,227.8) rotate(-30)" text-anchor="end">01-16 21</text>
<text transform="translate(1560.95,227.8) rotate(-30)" text-anchor="end">01-17 00</text>
<path d="M1254.75,216.3H1257.65 M1254.75,191.31H1257.65 M1254.75,166.33H1257.65 M1254.75,141.34H1257.65 M1254.75,116.35H1257.65 M1254.75,91.36H1257.65 M1254.75,66.38H1257.65 M1254.75,41.39H1257.65 M1254.75,16.4H1257.65 M1257.65,216.3V219.2 M1295.64,216.3V219.2 M1333.62,216.3V219.2 M1371.61,216.3V219.2 M1409.6,216.3V219.2 M1447.59,216.3V219.2 M1485.58,216.3V219.2 M1523.56,216.3V219.2 M1561.55,216.3V219.2" stroke="#000" stroke-width="0.8" fill="none"/>
<text x="1409.6" y="259" text-anchor="middle">Time Stamp</text>
<text transform="translate(1230.45,116.35) rotate(-90)" text-anchor="middle">RT-LONGIL($/MWh)</text>
<rect x="1482.58" y="20.4" width="74.57" height="40" rx="1.8" fill="#fff" fill-opacity="0.8" stroke="#ccc" stroke-width="0.8"/>
<path d="M1485.48,27.4h18.1" stroke="#ff0000" stroke-width="1.35"/>
<text x="1510.28" y="30.6">WIAE</text>
<path d="M1485.48,39.85h18.1" stroke="#0000ff" stroke-width="1.35"/>
<text x="1510.28" y="43.05">DeepVAR</text>
<path d="M1485.48,52.3h18.1" stroke="#000000" stroke-width="1.35"/>
<text x="1510.28" y="55.5">true value</text>
</g>
<text x="1404.55" y="322.8" text-anchor="middle" font-family="'Liberation Serif', serif" font-size="24.1">(d) DeepVAR</text>
<g font-family="'DejaVu Sans', sans-serif" font-size="8.6" fill="#000">
<clipPath id="ce"><rect x="50" y="374.5" width="303.9" height="199.9"/></clipPath>
<polyline clip-path="url(#ce)" fill="none" stroke="#ff0000" stroke-width="1.35" stroke-linejoin="round" points="49.39,531.01 50.09,535.65 50.9,542.61 52.06,544.93 53.22,546.67 54.38,544.93 55.54,543.19 56.7,541.45 57.86,543.77 59.59,545.51 61.33,543.19 63.07,540.29 64.81,542.61 66.55,544.35 68.29,547.25 70.03,550.14 71.19,542.61 72.93,540.87 74.67,544.35 76.41,544.35 78.14,545.51 79.88,546.09 81.62,546.67 83.36,544.93 85.1,544.35 88,543.77 90.32,544.35 92.64,544.93 94.96,544.35 97.28,543.19 99.01,543.19 101.33,544.35 103.65,544.35 105.97,543.77 108.29,543.54 110.61,543.19 112.93,544.35 114.67,545.51 116.41,544.35 118.14,543.19 119.88,540.87 122.2,541.45 124.52,542.61 126.84,541.45 129.16,540.29 130.9,539.13 132.64,537.97 134.38,536.81 136.12,540.29 137.86,540.87 139.59,540.87 140.75,537.97 142.49,534.49 143.65,533.33 145.39,534.49 147.13,534.49 148.87,538.55 150.61,539.71 152.35,538.55 154.09,537.97 155.83,536.81 157.57,536.23 159.3,536.81 161.04,537.97 162.78,540.29 164.52,539.13 166.26,537.97 168,536.81 169.74,538.55 171.48,542.61 172.64,544.35 174.38,540.29 176.12,539.71 177.86,538.55 180.17,540.29 182.49,540.29 184.23,541.45 185.97,543.77 187.71,542.61 189.45,542.03 191.19,541.45 192.93,540.29 195.83,540.29 198,539.32 200.75,538.63 202.82,540.7 204.88,541.39 206.95,542.07 209.01,540.01 211.07,540.7 212.45,541.39 213.83,544.83 215.89,545.51 217.96,544.83 220.02,544.14 222.77,545.51 225.53,546.2 228.28,547.58 230.34,547.58 232.41,546.2 234.47,545.51 236.54,546.2 239.29,546.2 242.04,546.89 244.79,546.48 247.55,545.93 250.3,545.51 253.05,546.2 255.8,546.2 257.87,546.2 259.25,544.14 260.62,544.83 262,542.76 263.37,541.39 264.75,544.14 266.13,544.83 267.5,543.45 268.88,542.76 270.26,544.14 271.63,546.2 273.01,550.33 274.39,536.57 275.76,537.94 277.14,537.26 279.2,535.19 280.58,542.07 281.95,550.33 284.02,539.32 285.4,537.94 286.77,537.94 288.84,531.75 290.21,531.06 291.59,535.19 292.97,537.94 293.65,529.69 295.03,538.63 295.72,544.83 297.09,542.76 298.47,542.07 299.85,544.83 301.22,529.69 302.6,524.18 303.98,529.69 305.35,544.83 307.42,544.14 309.48,542.07 310.86,532.44 312.23,527.62 313.61,529.69 314.99,532.44 316.36,535.19 318.43,535.88 320.49,535.88 321.87,542.07 322.56,543.45 323.24,533.82 324.62,528.31 326,528.31 327.37,531.06 329.44,533.82 330.81,537.94 332.19,539.32 334.25,536.57 336.32,533.13 337.7,533.82 339.07,537.94 340.45,535.88 341.82,541.39 343.2,539.32 344.58,537.26 345.95,535.19 347.33,537.94 348.71,537.26 350.77,539.32 352.83,542.07"/>
<polyline clip-path="url(#ce)" fill="none" stroke="#000000" stroke-width="1.35" stroke-linejoin="round" points="49.74,544.93 50.9,543.19 52.64,543.77 53.8,545.51 55.54,546.67 57.28,546.09 59.01,547.25 60.75,546.67 62.49,545.51 64.23,546.67 65.97,547.25 67.71,546.67 69.45,546.09 71.19,546.09 72.93,546.32 74.09,546.09 75.25,542.61 76.99,543.19 78.72,544.93 80.46,546.09 82.78,546.09 85.1,546.67 87.42,547.83 90.9,547.83 94.38,547.83 96.12,547.83 97.86,544.93 99.59,545.51 101.33,546.09 103.07,547.01 104.81,546.09 107.13,546.09 109.45,544.35 111.19,543.77 112.35,543.19 113.51,547.01 114.67,543.77 116.41,543.77 118.14,543.19 119.3,537.97 120.46,536.81 121.62,529.28 123.36,528.12 124.52,526.38 125.68,534.49 126.84,542.61 128,540.29 129.16,533.33 130.32,525.8 132.06,524.64 133.22,518.26 134.38,517.1 135.54,518.26 136.7,521.16 137.28,517.1 138.43,522.9 139.59,521.74 140.75,524.64 141.91,527.54 144.23,528.12 146.55,529.28 148.29,530.43 150.03,533.33 151.77,532.75 152.93,529.86 154.09,528.12 155.83,529.28 156.99,532.17 158.14,535.65 159.3,543.19 161.04,544.35 162.2,548.41 163.94,547.83 165.68,547.25 167.42,548.41 169.74,548.99 171.48,549.33 172.64,544.93 173.8,542.03 175.54,540.29 177.28,539.71 179.01,539.71 181.33,540.06 183.65,540.29 185.97,540.29 188.29,540.06 189.68,535.65 191.19,539.13 193.51,539.71 195.83,539.71 198,540.01 200.06,539.32 201.44,542.76 204.19,545.51 207.63,546.2 210.39,546.89 212.45,546.2 213.14,547.58 214.52,550.33 217.27,549.64 221.4,548.68 225.53,548.27 228.28,548.95 231.03,549.64 233.78,550.61 236.54,550.33 239.29,550.33 242.04,551.02 244.11,551.02 245.48,555.15 246.86,551.71 248.92,551.02 250.99,550.33 253.05,548.27 255.8,548.27 258.56,547.58 261.31,547.3 264.06,546.89 266.13,544.83 267.5,546.89 268.88,546.2 270.94,540.01 273.01,536.57 275.07,535.88 276.45,534.5 277.14,532.44 278.51,535.88 279.89,535.88 281.27,528.31 282.64,524.87 284.02,528.31 285.4,527.62 286.77,528.31 288.84,526.93 290.21,524.18 291.59,519.36 292.97,520.05 294.34,521.43 296.41,520.05 298.47,520.05 299.85,518.68 300.53,484.27 301.22,484.96 301.91,492.53 302.6,503.54 303.29,515.92 303.98,513.17 304.66,515.92 305.35,497.34 306.04,506.29 306.73,514.55 308.1,517.3 310.17,520.05 312.23,521.43 314.3,522.8 316.36,524.87 318.43,526.25 319.8,528.31 321.18,526.93 322.56,529.69 323.93,529.69 325.31,532.44 326.68,535.88 328.06,537.26 329.44,537.94 330.81,540.7 332.19,542.07 334.25,542.07 336.32,543.45 338.38,546.2 340.45,543.45 342.51,542.76 344.58,543.45 346.64,542.76 348.71,544.83 350.08,544.14 351.46,546.2 352.83,542.07 353.52,537.94"/>
<rect x="50" y="374.5" width="303.9" height="199.9" fill="none" stroke="#000" stroke-width="0.8"/>
<text x="44.2" y="577.7" text-anchor="end">0</text>
<text x="44.2" y="551.05" text-anchor="end">20</text>
<text x="44.2" y="524.39" text-anchor="end">40</text>
<text x="44.2" y="497.74" text-anchor="end">60</text>
<text x="44.2" y="471.09" text-anchor="end">80</text>
<text x="44.2" y="444.43" text-anchor="end">100</text>
<text x="44.2" y="417.78" text-anchor="end">120</text>
<text x="44.2" y="391.13" text-anchor="end">140</text>
<text transform="translate(49.4,585.9) rotate(-30)" text-anchor="end">04-09 00</text>
<text transform="translate(87.39,585.9) rotate(-30)" text-anchor="end">04-09 03</text>
<text transform="translate(125.38,585.9) rotate(-30)" text-anchor="end">04-09 06</text>
<text transform="translate(163.36,585.9) rotate(-30)" text-anchor="end">04-09 09</text>
<text transform="translate(201.35,585.9) rotate(-30)" text-anchor="end">04-09 12</text>
<text transform="translate(239.34,585.9) rotate(-30)" text-anchor="end">04-09 15</text>
<text transform="translate(277.32,585.9) rotate(-30)" text-anchor="end">04-09 18</text>
<text transform="translate(315.31,585.9) rotate(-30)" text-anchor="end">04-09 21</text>
<text transform="translate(353.3,585.9) rotate(-30)" text-anchor="end">04-10 00</text>
<path d="M47.1,574.4H50 M47.1,547.75H50 M47.1,521.09H50 M47.1,494.44H50 M47.1,467.79H50 M47.1,441.13H50 M47.1,414.48H50 M47.1,387.83H50 M50,574.4V577.3 M87.99,574.4V577.3 M125.97,574.4V577.3 M163.96,574.4V577.3 M201.95,574.4V577.3 M239.94,574.4V577.3 M277.92,574.4V577.3 M315.91,574.4V577.3 M353.9,574.4V577.3" stroke="#000" stroke-width="0.8" fill="none"/>
<text x="201.95" y="617.1" text-anchor="middle">Time Stamp</text>
<text transform="translate(22.8,474.45) rotate(-90)" text-anchor="middle">RT-LONGIL($/MWh)</text>
<rect x="274.93" y="378.5" width="74.57" height="27.65" rx="1.8" fill="#fff" fill-opacity="0.8" stroke="#ccc" stroke-width="0.8"/>
<path d="M277.83,385.5h18.1" stroke="#ff0000" stroke-width="1.35"/>
<text x="302.63" y="388.7">WIAE</text>
<path d="M277.83,397.95h18.1" stroke="#000000" stroke-width="1.35"/>
<text x="302.63" y="401.15">true value</text>
</g>
<text x="197.2" y="680.9" text-anchor="middle" font-family="'Liberation Serif', serif" font-size="24.1">(e) WIAE-GPF</text>
<g font-family="'DejaVu Sans', sans-serif" font-size="8.6" fill="#000">
<clipPath id="cf"><rect x="452.55" y="374.5" width="303.9" height="199.9"/></clipPath>
<polyline clip-path="url(#cf)" fill="none" stroke="#ff0000" stroke-width="1.35" stroke-linejoin="round" points="451.94,531.01 452.64,535.65 453.45,542.61 454.61,544.93 455.77,546.67 456.93,544.93 458.09,543.19 459.25,541.45 460.41,543.77 462.14,545.51 463.88,543.19 465.62,540.29 467.36,542.61 469.1,544.35 470.84,547.25 472.58,550.14 473.74,542.61 475.48,540.87 477.22,544.35 478.96,544.35 480.69,545.51 482.43,546.09 484.17,546.67 485.91,544.93 487.65,544.35 490.55,543.77 492.87,544.35 495.19,544.93 497.51,544.35 499.83,543.19 501.56,543.19 503.88,544.35 506.2,544.35 508.52,543.77 510.84,543.54 513.16,543.19 515.48,544.35 517.22,545.51 518.96,544.35 520.69,543.19 522.43,540.87 524.75,541.45 527.07,542.61 529.39,541.45 531.71,540.29 533.45,539.13 535.19,537.97 536.93,536.81 538.67,540.29 540.41,540.87 542.14,540.87 543.3,537.97 545.04,534.49 546.2,533.33 547.94,534.49 549.68,534.49 551.42,538.55 553.16,539.71 554.9,538.55 556.64,537.97 558.38,536.81 560.12,536.23 561.85,536.81 563.59,537.97 565.33,540.29 567.07,539.13 568.81,537.97 570.55,536.81 572.29,538.55 574.03,542.61 575.19,544.35 576.93,540.29 578.67,539.71 580.41,538.55 582.72,540.29 585.04,540.29 586.78,541.45 588.52,543.77 590.26,542.61 592,542.03 593.74,541.45 595.48,540.29 598.38,540.29 600.55,539.32 603.3,538.63 605.37,540.7 607.43,541.39 609.5,542.07 611.56,540.01 613.62,540.7 615,541.39 616.38,544.83 618.44,545.51 620.51,544.83 622.57,544.14 625.32,545.51 628.08,546.2 630.83,547.58 632.89,547.58 634.96,546.2 637.02,545.51 639.09,546.2 641.84,546.2 644.59,546.89 647.34,546.48 650.1,545.93 652.85,545.51 655.6,546.2 658.35,546.2 660.42,546.2 661.8,544.14 663.17,544.83 664.55,542.76 665.92,541.39 667.3,544.14 668.68,544.83 670.05,543.45 671.43,542.76 672.81,544.14 674.18,546.2 675.56,550.33 676.94,536.57 678.31,537.94 679.69,537.26 681.75,535.19 683.13,542.07 684.5,550.33 686.57,539.32 687.95,537.94 689.32,537.94 691.39,531.75 692.76,531.06 694.14,535.19 695.52,537.94 696.2,529.69 697.58,538.63 698.27,544.83 699.64,542.76 701.02,542.07 702.4,544.83 703.77,529.69 705.15,524.18 706.53,529.69 707.9,544.83 709.97,544.14 712.03,542.07 713.41,532.44 714.78,527.62 716.16,529.69 717.54,532.44 718.91,535.19 720.98,535.88 723.04,535.88 724.42,542.07 725.11,543.45 725.79,533.82 727.17,528.31 728.55,528.31 729.92,531.06 731.99,533.82 733.36,537.94 734.74,539.32 736.8,536.57 738.87,533.13 740.25,533.82 741.62,537.94 743,535.88 744.37,541.39 745.75,539.32 747.13,537.26 748.5,535.19 749.88,537.94 751.26,537.26 753.32,539.32 755.38,542.07"/>
<polyline clip-path="url(#cf)" fill="none" stroke="#0000ff" stroke-width="1.35" stroke-linejoin="round" points="452.55,529.85 454.64,531.01 456.96,531.94 459.27,532.75 461.59,533.91 463.33,535.42 465.07,536.81 466.81,537.97 468.55,538.55 470.29,537.39 472.03,536.23 473.77,534.49 475.5,533.33 477.24,533.33 478.98,534.49 480.72,536.23 482.46,537.97 484.2,539.7 485.94,540.86 487.68,540.52 489.42,539.7 491.16,539.7 492.89,538.55 494.63,537.73 496.37,537.39 498.11,536.81 499.85,535.65 501.59,534.72 503.33,535.42 505.07,534.49 506.81,533.33 508.55,532.17 510.28,532.75 512.02,533.91 513.76,535.07 515.5,536.23 517.24,536.81 518.98,536.81 520.72,536.23 522.46,536.81 524.2,536.57 525.93,536.23 527.67,536.81 529.41,536.81 531.15,537.39 532.89,535.07 534.63,532.17 536.37,531.01 538.11,528.69 539.85,528.11 541.59,529.85 542.74,532.17 544.48,532.75 546.22,531.59 547.96,532.75 549.7,532.75 551.44,531.59 552.6,529.85 553.76,526.37 554.92,522.31 555.5,524.63 556.66,528.69 557.24,525.21 558.4,529.85 559.55,532.75 560.71,529.27 561.87,536.23 563.61,536.81 565.35,535.65 567.09,532.75 568.25,529.85 569.99,531.01 571.73,528.69 572.89,527.53 574.05,528.11 575.21,533.33 576.36,537.97 577.52,540.28 578.68,536.81 579.84,533.33 581,531.01 582.16,532.17 583.32,535.07 584.48,534.49 586.22,535.07 587.96,532.17 589.12,531.59 590.28,534.49 591.44,535.65 593.18,534.49 594.33,536.81 596.07,541.44 597.81,539.12 599.55,539.7 600.71,537.39 601.87,535.65 602,535.22 604.07,536.6 606.13,537.29 608.2,539.35 610.26,541.42 611.64,543.48 613.02,541.42 615.08,539.35 617.15,538.66 619.21,540.04 621.28,541.42 623.34,542.11 625.41,541.42 627.47,542.11 629.54,541.42 631.6,541 633.67,540.73 635.73,540.73 637.8,540.04 639.86,539.63 641.93,540.04 643.99,540.45 646.06,540.73 648.13,541 650.19,540.73 652.26,540.45 654.32,541 656.39,540.73 658.45,540.04 660.52,539.35 662.58,538.66 664.65,537.97 666.71,537.7 668.78,538.66 670.84,539.35 672.91,536.6 674.97,533.84 677.04,532.47 679.11,531.78 681.17,533.16 683.24,532.47 685.3,531.09 687.37,530.4 689.43,529.44 691.5,528.61 693.56,526.96 695.63,525.58 697.69,524.89 699.07,524.21 700.45,525.58 701.82,528.34 703.89,531.09 705.95,530.4 708.02,528.34 710.08,525.58 711.46,525.58 713.53,528.34 715.59,529.71 717.66,530.81 719.72,531.78 721.79,532.47 723.85,533.84 725.92,535.91 727.98,537.29 730.05,537.29 732.11,537.97 734.18,539.35 736.25,540.73 738.31,541.42 740.38,540.04 742.44,538.66 744.51,539.35 746.57,538.66 748.64,539.08 750.7,538.66 752.77,537.97 754.83,537.97 756.21,539.35"/>
<polyline clip-path="url(#cf)" fill="none" stroke="#000000" stroke-width="1.35" stroke-linejoin="round" points="452.29,544.93 453.45,543.19 455.19,543.77 456.35,545.51 458.09,546.67 459.83,546.09 461.56,547.25 463.3,546.67 465.04,545.51 466.78,546.67 468.52,547.25 470.26,546.67 472,546.09 473.74,546.09 475.48,546.32 476.64,546.09 477.8,542.61 479.54,543.19 481.27,544.93 483.01,546.09 485.33,546.09 487.65,546.67 489.97,547.83 493.45,547.83 496.93,547.83 498.67,547.83 500.41,544.93 502.14,545.51 503.88,546.09 505.62,547.01 507.36,546.09 509.68,546.09 512,544.35 513.74,543.77 514.9,543.19 516.06,547.01 517.22,543.77 518.96,543.77 520.69,543.19 521.85,537.97 523.01,536.81 524.17,529.28 525.91,528.12 527.07,526.38 528.23,534.49 529.39,542.61 530.55,540.29 531.71,533.33 532.87,525.8 534.61,524.64 535.77,518.26 536.93,517.1 538.09,518.26 539.25,521.16 539.83,517.1 540.98,522.9 542.14,521.74 543.3,524.64 544.46,527.54 546.78,528.12 549.1,529.28 550.84,530.43 552.58,533.33 554.32,532.75 555.48,529.86 556.64,528.12 558.38,529.28 559.54,532.17 560.69,535.65 561.85,543.19 563.59,544.35 564.75,548.41 566.49,547.83 568.23,547.25 569.97,548.41 572.29,548.99 574.03,549.33 575.19,544.93 576.35,542.03 578.09,540.29 579.83,539.71 581.56,539.71 583.88,540.06 586.2,540.29 588.52,540.29 590.84,540.06 592.23,535.65 593.74,539.13 596.06,539.71 598.38,539.71 600.55,540.01 602.61,539.32 603.99,542.76 606.74,545.51 610.18,546.2 612.94,546.89 615,546.2 615.69,547.58 617.07,550.33 619.82,549.64 623.95,548.68 628.08,548.27 630.83,548.95 633.58,549.64 636.33,550.61 639.09,550.33 641.84,550.33 644.59,551.02 646.66,551.02 648.03,555.15 649.41,551.71 651.47,551.02 653.54,550.33 655.6,548.27 658.35,548.27 661.11,547.58 663.86,547.3 666.61,546.89 668.68,544.83 670.05,546.89 671.43,546.2 673.49,540.01 675.56,536.57 677.62,535.88 679,534.5 679.69,532.44 681.06,535.88 682.44,535.88 683.82,528.31 685.19,524.87 686.57,528.31 687.95,527.62 689.32,528.31 691.39,526.93 692.76,524.18 694.14,519.36 695.52,520.05 696.89,521.43 698.96,520.05 701.02,520.05 702.4,518.68 703.08,484.27 703.77,484.96 704.46,492.53 705.15,503.54 705.84,515.92 706.53,513.17 707.21,515.92 707.9,497.34 708.59,506.29 709.28,514.55 710.65,517.3 712.72,520.05 714.78,521.43 716.85,522.8 718.91,524.87 720.98,526.25 722.35,528.31 723.73,526.93 725.11,529.69 726.48,529.69 727.86,532.44 729.23,535.88 730.61,537.26 731.99,537.94 733.36,540.7 734.74,542.07 736.8,542.07 738.87,543.45 740.93,546.2 743,543.45 745.06,542.76 747.13,543.45 749.19,542.76 751.26,544.83 752.63,544.14 754.01,546.2 755.38,542.07 756.07,537.94"/>
<rect x="452.55" y="374.5" width="303.9" height="199.9" fill="none" stroke="#000" stroke-width="0.8"/>
<text x="446.75" y="577.7" text-anchor="end">0</text>
<text x="446.75" y="551.05" text-anchor="end">20</text>
<text x="446.75" y="524.39" text-anchor="end">40</text>
<text x="446.75" y="497.74" text-anchor="end">60</text>
<text x="446.75" y="471.09" text-anchor="end">80</text>
<text x="446.75" y="444.43" text-anchor="end">100</text>
<text x="446.75" y="417.78" text-anchor="end">120</text>
<text x="446.75" y="391.13" text-anchor="end">140</text>
<text transform="translate(451.95,585.9) rotate(-30)" text-anchor="end">04-09 00</text>
<text transform="translate(489.94,585.9) rotate(-30)" text-anchor="end">04-09 03</text>
<text transform="translate(527.92,585.9) rotate(-30)" text-anchor="end">04-09 06</text>
<text transform="translate(565.91,585.9) rotate(-30)" text-anchor="end">04-09 09</text>
<text transform="translate(603.9,585.9) rotate(-30)" text-anchor="end">04-09 12</text>
<text transform="translate(641.89,585.9) rotate(-30)" text-anchor="end">04-09 15</text>
<text transform="translate(679.88,585.9) rotate(-30)" text-anchor="end">04-09 18</text>
<text transform="translate(717.86,585.9) rotate(-30)" text-anchor="end">04-09 21</text>
<text transform="translate(755.85,585.9) rotate(-30)" text-anchor="end">04-10 00</text>
<path d="M449.65,574.4H452.55 M449.65,547.75H452.55 M449.65,521.09H452.55 M449.65,494.44H452.55 M449.65,467.79H452.55 M449.65,441.13H452.55 M449.65,414.48H452.55 M449.65,387.83H452.55 M452.55,574.4V577.3 M490.54,574.4V577.3 M528.52,574.4V577.3 M566.51,574.4V577.3 M604.5,574.4V577.3 M642.49,574.4V577.3 M680.48,574.4V577.3 M718.46,574.4V577.3 M756.45,574.4V577.3" stroke="#000" stroke-width="0.8" fill="none"/>
<text x="604.5" y="617.1" text-anchor="middle">Time Stamp</text>
<text transform="translate(425.35,474.45) rotate(-90)" text-anchor="middle">RT-LONGIL($/MWh)</text>
<rect x="677.48" y="378.5" width="74.57" height="40" rx="1.8" fill="#fff" fill-opacity="0.8" stroke="#ccc" stroke-width="0.8"/>
<path d="M680.38,385.5h18.1" stroke="#ff0000" stroke-width="1.35"/>
<text x="705.18" y="388.7">WIAE</text>
<path d="M680.38,397.95h18.1" stroke="#0000ff" stroke-width="1.35"/>
<text x="705.18" y="401.15">Informer</text>
<path d="M680.38,410.4h18.1" stroke="#000000" stroke-width="1.35"/>
<text x="705.18" y="413.6">true value</text>
</g>
<text x="599.65" y="680.9" text-anchor="middle" font-family="'Liberation Serif', serif" font-size="24.1">(f) Informer</text>
<g font-family="'DejaVu Sans', sans-serif" font-size="8.6" fill="#000">
<clipPath id="cg"><rect x="855.1" y="374.5" width="303.9" height="199.9"/></clipPath>
<polyline clip-path="url(#cg)" fill="none" stroke="#ff0000" stroke-width="1.35" stroke-linejoin="round" points="854.49,531.01 855.19,535.65 856,542.61 857.16,544.93 858.32,546.67 859.48,544.93 860.64,543.19 861.8,541.45 862.96,543.77 864.69,545.51 866.43,543.19 868.17,540.29 869.91,542.61 871.65,544.35 873.39,547.25 875.13,550.14 876.29,542.61 878.03,540.87 879.77,544.35 881.51,544.35 883.24,545.51 884.98,546.09 886.72,546.67 888.46,544.93 890.2,544.35 893.1,543.77 895.42,544.35 897.74,544.93 900.06,544.35 902.38,543.19 904.11,543.19 906.43,544.35 908.75,544.35 911.07,543.77 913.39,543.54 915.71,543.19 918.03,544.35 919.77,545.51 921.51,544.35 923.24,543.19 924.98,540.87 927.3,541.45 929.62,542.61 931.94,541.45 934.26,540.29 936,539.13 937.74,537.97 939.48,536.81 941.22,540.29 942.96,540.87 944.69,540.87 945.85,537.97 947.59,534.49 948.75,533.33 950.49,534.49 952.23,534.49 953.97,538.55 955.71,539.71 957.45,538.55 959.19,537.97 960.93,536.81 962.67,536.23 964.4,536.81 966.14,537.97 967.88,540.29 969.62,539.13 971.36,537.97 973.1,536.81 974.84,538.55 976.58,542.61 977.74,544.35 979.48,540.29 981.22,539.71 982.96,538.55 985.27,540.29 987.59,540.29 989.33,541.45 991.07,543.77 992.81,542.61 994.55,542.03 996.29,541.45 998.03,540.29 1000.93,540.29 1003.1,539.32 1005.85,538.63 1007.92,540.7 1009.98,541.39 1012.05,542.07 1014.11,540.01 1016.17,540.7 1017.55,541.39 1018.93,544.83 1020.99,545.51 1023.06,544.83 1025.12,544.14 1027.87,545.51 1030.63,546.2 1033.38,547.58 1035.44,547.58 1037.51,546.2 1039.57,545.51 1041.64,546.2 1044.39,546.2 1047.14,546.89 1049.89,546.48 1052.65,545.93 1055.4,545.51 1058.15,546.2 1060.9,546.2 1062.97,546.2 1064.35,544.14 1065.72,544.83 1067.1,542.76 1068.47,541.39 1069.85,544.14 1071.23,544.83 1072.6,543.45 1073.98,542.76 1075.36,544.14 1076.73,546.2 1078.11,550.33 1079.49,536.57 1080.86,537.94 1082.24,537.26 1084.3,535.19 1085.68,542.07 1087.05,550.33 1089.12,539.32 1090.5,537.94 1091.87,537.94 1093.94,531.75 1095.31,531.06 1096.69,535.19 1098.07,537.94 1098.75,529.69 1100.13,538.63 1100.82,544.83 1102.19,542.76 1103.57,542.07 1104.95,544.83 1106.32,529.69 1107.7,524.18 1109.08,529.69 1110.45,544.83 1112.52,544.14 1114.58,542.07 1115.96,532.44 1117.33,527.62 1118.71,529.69 1120.09,532.44 1121.46,535.19 1123.53,535.88 1125.59,535.88 1126.97,542.07 1127.66,543.45 1128.34,533.82 1129.72,528.31 1131.1,528.31 1132.47,531.06 1134.54,533.82 1135.91,537.94 1137.29,539.32 1139.35,536.57 1141.42,533.13 1142.8,533.82 1144.17,537.94 1145.55,535.88 1146.92,541.39 1148.3,539.32 1149.68,537.26 1151.05,535.19 1152.43,537.94 1153.81,537.26 1155.87,539.32 1157.93,542.07"/>
<polyline clip-path="url(#cg)" fill="none" stroke="#0000ff" stroke-width="1.35" stroke-linejoin="round" points="854.83,565.07 856.04,567.35 857.56,564.31 859.08,565.07 860.61,562.79 862.13,561.27 864.41,560.96 866.69,560.51 868.97,559.74 871.25,558.98 873.53,557.92 875.82,557.46 878.1,556.7 880.38,556.7 882.66,555.94 884.94,554.42 887.22,552.9 889.51,551.38 891.79,549.86 894.07,548.34 896.35,547.88 898.63,547.88 900.91,548.34 902.44,549.86 903.96,547.58 906.24,546.05 908.52,543.01 910.8,540.73 913.08,537.69 914.6,534.65 916.13,533.89 918.41,531.6 920.69,531.6 922.21,530.84 923.73,524 925.25,514.11 926.77,501.18 927.84,514.11 929.05,503.46 930.58,510.31 932.1,505.75 933.62,511.07 935.14,509.55 936.66,520.2 938.18,528.56 939.7,518.68 941.22,526.28 942.74,515.63 944.27,514.11 945.79,512.59 947.31,508.03 948.83,511.07 949.89,497.38 951.11,512.59 952.63,520.2 954.15,518.68 955.67,528.56 957.2,536.93 958.72,542.25 959.48,546.05 961,536.93 962.52,527.8 964.04,533.89 965.56,532.37 967.08,536.93 968.6,533.13 970.89,522.48 972.41,539.97 973.93,550.62 975.45,552.14 976.97,556.7 978.49,550.62 980.01,544.53 982.29,545.29 984.58,545.29 986.86,544.53 989.14,546.82 991.42,547.58 993.7,549.1 995.98,548.34 998.26,547.58 1000.55,546.82 1002.83,546.05 1005,546.9 1007.06,547.59 1009.13,548.28 1011.88,548.28 1014.64,548.97 1017.39,548.97 1020.14,547.59 1022.9,547.59 1025.65,547.32 1028.4,547.59 1031.15,547.59 1033.91,547.32 1036.66,546.9 1039.41,546.22 1042.17,545.53 1044.92,545.12 1047.67,544.84 1050.43,544.15 1053.18,544.15 1055.93,543.74 1058.69,543.46 1061.44,543.19 1064.19,543.19 1066.94,543.46 1069.7,542.78 1072.45,542.09 1075.2,542.09 1077.96,540.02 1080.71,537.96 1083.46,536.58 1086.22,535.2 1088.28,533.83 1090.35,532.45 1092.41,530.8 1093.79,532.45 1095.85,532.45 1097.92,533.14 1099.98,535.2 1102.05,537.27 1104.11,537.96 1106.18,537.96 1108.24,538.65 1110.31,540.02 1112.37,540.71 1114.44,542.09 1116.5,543.46 1118.57,542.09 1120.63,540.71 1122.7,540.02 1124.76,540.71 1126.83,541.4 1128.89,541.4 1130.95,541.4 1133.02,542.09 1135.08,542.78 1137.15,543.46 1139.21,544.84 1141.28,546.22 1143.34,547.59 1145.41,546.22 1147.47,545.53 1149.54,545.53 1151.6,546.22 1153.67,546.9 1155.73,546.22 1157.8,546.22 1158.49,545.53"/>
<polyline clip-path="url(#cg)" fill="none" stroke="#000000" stroke-width="1.35" stroke-linejoin="round" points="854.84,544.93 856,543.19 857.74,543.77 858.9,545.51 860.64,546.67 862.38,546.09 864.11,547.25 865.85,546.67 867.59,545.51 869.33,546.67 871.07,547.25 872.81,546.67 874.55,546.09 876.29,546.09 878.03,546.32 879.19,546.09 880.35,542.61 882.09,543.19 883.82,544.93 885.56,546.09 887.88,546.09 890.2,546.67 892.52,547.83 896,547.83 899.48,547.83 901.22,547.83 902.96,544.93 904.69,545.51 906.43,546.09 908.17,547.01 909.91,546.09 912.23,546.09 914.55,544.35 916.29,543.77 917.45,543.19 918.61,547.01 919.77,543.77 921.51,543.77 923.24,543.19 924.4,537.97 925.56,536.81 926.72,529.28 928.46,528.12 929.62,526.38 930.78,534.49 931.94,542.61 933.1,540.29 934.26,533.33 935.42,525.8 937.16,524.64 938.32,518.26 939.48,517.1 940.64,518.26 941.8,521.16 942.38,517.1 943.53,522.9 944.69,521.74 945.85,524.64 947.01,527.54 949.33,528.12 951.65,529.28 953.39,530.43 955.13,533.33 956.87,532.75 958.03,529.86 959.19,528.12 960.93,529.28 962.09,532.17 963.24,535.65 964.4,543.19 966.14,544.35 967.3,548.41 969.04,547.83 970.78,547.25 972.52,548.41 974.84,548.99 976.58,549.33 977.74,544.93 978.9,542.03 980.64,540.29 982.38,539.71 984.11,539.71 986.43,540.06 988.75,540.29 991.07,540.29 993.39,540.06 994.78,535.65 996.29,539.13 998.61,539.71 1000.93,539.71 1003.1,540.01 1005.16,539.32 1006.54,542.76 1009.29,545.51 1012.73,546.2 1015.49,546.89 1017.55,546.2 1018.24,547.58 1019.62,550.33 1022.37,549.64 1026.5,548.68 1030.63,548.27 1033.38,548.95 1036.13,549.64 1038.88,550.61 1041.64,550.33 1044.39,550.33 1047.14,551.02 1049.21,551.02 1050.58,555.15 1051.96,551.71 1054.02,551.02 1056.09,550.33 1058.15,548.27 1060.9,548.27 1063.66,547.58 1066.41,547.3 1069.16,546.89 1071.23,544.83 1072.6,546.89 1073.98,546.2 1076.04,540.01 1078.11,536.57 1080.17,535.88 1081.55,534.5 1082.24,532.44 1083.61,535.88 1084.99,535.88 1086.37,528.31 1087.74,524.87 1089.12,528.31 1090.5,527.62 1091.87,528.31 1093.94,526.93 1095.31,524.18 1096.69,519.36 1098.07,520.05 1099.44,521.43 1101.51,520.05 1103.57,520.05 1104.95,518.68 1105.63,484.27 1106.32,484.96 1107.01,492.53 1107.7,503.54 1108.39,515.92 1109.08,513.17 1109.76,515.92 1110.45,497.34 1111.14,506.29 1111.83,514.55 1113.2,517.3 1115.27,520.05 1117.33,521.43 1119.4,522.8 1121.46,524.87 1123.53,526.25 1124.9,528.31 1126.28,526.93 1127.66,529.69 1129.03,529.69 1130.41,532.44 1131.78,535.88 1133.16,537.26 1134.54,537.94 1135.91,540.7 1137.29,542.07 1139.35,542.07 1141.42,543.45 1143.48,546.2 1145.55,543.45 1147.61,542.76 1149.68,543.45 1151.74,542.76 1153.81,544.83 1155.18,544.14 1156.56,546.2 1157.93,542.07 1158.62,537.94"/>
<rect x="855.1" y="374.5" width="303.9" height="199.9" fill="none" stroke="#000" stroke-width="0.8"/>
<text x="849.3" y="577.7" text-anchor="end">0</text>
<text x="849.3" y="551.05" text-anchor="end">20</text>
<text x="849.3" y="524.39" text-anchor="end">40</text>
<text x="849.3" y="497.74" text-anchor="end">60</text>
<text x="849.3" y="471.09" text-anchor="end">80</text>
<text x="849.3" y="444.43" text-anchor="end">100</text>
<text x="849.3" y="417.78" text-anchor="end">120</text>
<text x="849.3" y="391.13" text-anchor="end">140</text>
<text transform="translate(854.5,585.9) rotate(-30)" text-anchor="end">04-09 00</text>
<text transform="translate(892.49,585.9) rotate(-30)" text-anchor="end">04-09 03</text>
<text transform="translate(930.48,585.9) rotate(-30)" text-anchor="end">04-09 06</text>
<text transform="translate(968.46,585.9) rotate(-30)" text-anchor="end">04-09 09</text>
<text transform="translate(1006.45,585.9) rotate(-30)" text-anchor="end">04-09 12</text>
<text transform="translate(1044.44,585.9) rotate(-30)" text-anchor="end">04-09 15</text>
<text transform="translate(1082.43,585.9) rotate(-30)" text-anchor="end">04-09 18</text>
<text transform="translate(1120.41,585.9) rotate(-30)" text-anchor="end">04-09 21</text>
<text transform="translate(1158.4,585.9) rotate(-30)" text-anchor="end">04-10 00</text>
<path d="M852.2,574.4H855.1 M852.2,547.75H855.1 M852.2,521.09H855.1 M852.2,494.44H855.1 M852.2,467.79H855.1 M852.2,441.13H855.1 M852.2,414.48H855.1 M852.2,387.83H855.1 M855.1,574.4V577.3 M893.09,574.4V577.3 M931.08,574.4V577.3 M969.06,574.4V577.3 M1007.05,574.4V577.3 M1045.04,574.4V577.3 M1083.03,574.4V577.3 M1121.01,574.4V577.3 M1159,574.4V577.3" stroke="#000" stroke-width="0.8" fill="none"/>
<text x="1007.05" y="617.1" text-anchor="middle">Time Stamp</text>
<text transform="translate(827.9,474.45) rotate(-90)" text-anchor="middle">RT-LONGIL($/MWh)</text>
<rect x="1080.03" y="378.5" width="74.57" height="40" rx="1.8" fill="#fff" fill-opacity="0.8" stroke="#ccc" stroke-width="0.8"/>
<path d="M1082.93,385.5h18.1" stroke="#ff0000" stroke-width="1.35"/>
<text x="1107.73" y="388.7">WIAE</text>
<path d="M1082.93,397.95h18.1" stroke="#0000ff" stroke-width="1.35"/>
<text x="1107.73" y="401.15">TLAE</text>
<path d="M1082.93,410.4h18.1" stroke="#000000" stroke-width="1.35"/>
<text x="1107.73" y="413.6">true value</text>
</g>
<text x="1002.1" y="680.9" text-anchor="middle" font-family="'Liberation Serif', serif" font-size="24.1">(g) TLAE</text>
<g font-family="'DejaVu Sans', sans-serif" font-size="8.6" fill="#000">
<clipPath id="ch"><rect x="1257.65" y="374.5" width="303.9" height="199.9"/></clipPath>
<polyline clip-path="url(#ch)" fill="none" stroke="#ff0000" stroke-width="1.35" stroke-linejoin="round" points="1257.04,531.01 1257.74,535.65 1258.55,542.61 1259.71,544.93 1260.87,546.67 1262.03,544.93 1263.19,543.19 1264.35,541.45 1265.51,543.77 1267.24,545.51 1268.98,543.19 1270.72,540.29 1272.46,542.61 1274.2,544.35 1275.94,547.25 1277.68,550.14 1278.84,542.61 1280.58,540.87 1282.32,544.35 1284.06,544.35 1285.79,545.51 1287.53,546.09 1289.27,546.67 1291.01,544.93 1292.75,544.35 1295.65,543.77 1297.97,544.35 1300.29,544.93 1302.61,544.35 1304.93,543.19 1306.66,543.19 1308.98,544.35 1311.3,544.35 1313.62,543.77 1315.94,543.54 1318.26,543.19 1320.58,544.35 1322.32,545.51 1324.06,544.35 1325.79,543.19 1327.53,540.87 1329.85,541.45 1332.17,542.61 1334.49,541.45 1336.81,540.29 1338.55,539.13 1340.29,537.97 1342.03,536.81 1343.77,540.29 1345.51,540.87 1347.24,540.87 1348.4,537.97 1350.14,534.49 1351.3,533.33 1353.04,534.49 1354.78,534.49 1356.52,538.55 1358.26,539.71 1360,538.55 1361.74,537.97 1363.48,536.81 1365.22,536.23 1366.95,536.81 1368.69,537.97 1370.43,540.29 1372.17,539.13 1373.91,537.97 1375.65,536.81 1377.39,538.55 1379.13,542.61 1380.29,544.35 1382.03,540.29 1383.77,539.71 1385.51,538.55 1387.82,540.29 1390.14,540.29 1391.88,541.45 1393.62,543.77 1395.36,542.61 1397.1,542.03 1398.84,541.45 1400.58,540.29 1403.48,540.29 1405.65,539.32 1408.4,538.63 1410.47,540.7 1412.53,541.39 1414.6,542.07 1416.66,540.01 1418.72,540.7 1420.1,541.39 1421.48,544.83 1423.54,545.51 1425.61,544.83 1427.67,544.14 1430.42,545.51 1433.18,546.2 1435.93,547.58 1437.99,547.58 1440.06,546.2 1442.12,545.51 1444.19,546.2 1446.94,546.2 1449.69,546.89 1452.44,546.48 1455.2,545.93 1457.95,545.51 1460.7,546.2 1463.45,546.2 1465.52,546.2 1466.9,544.14 1468.27,544.83 1469.65,542.76 1471.02,541.39 1472.4,544.14 1473.78,544.83 1475.15,543.45 1476.53,542.76 1477.91,544.14 1479.28,546.2 1480.66,550.33 1482.04,536.57 1483.41,537.94 1484.79,537.26 1486.85,535.19 1488.23,542.07 1489.6,550.33 1491.67,539.32 1493.05,537.94 1494.42,537.94 1496.49,531.75 1497.86,531.06 1499.24,535.19 1500.62,537.94 1501.3,529.69 1502.68,538.63 1503.37,544.83 1504.74,542.76 1506.12,542.07 1507.5,544.83 1508.87,529.69 1510.25,524.18 1511.63,529.69 1513,544.83 1515.07,544.14 1517.13,542.07 1518.51,532.44 1519.88,527.62 1521.26,529.69 1522.64,532.44 1524.01,535.19 1526.08,535.88 1528.14,535.88 1529.52,542.07 1530.21,543.45 1530.89,533.82 1532.27,528.31 1533.65,528.31 1535.02,531.06 1537.09,533.82 1538.46,537.94 1539.84,539.32 1541.9,536.57 1543.97,533.13 1545.35,533.82 1546.72,537.94 1548.1,535.88 1549.47,541.39 1550.85,539.32 1552.23,537.26 1553.6,535.19 1554.98,537.94 1556.36,537.26 1558.42,539.32 1560.48,542.07"/>
<polyline clip-path="url(#ch)" fill="none" stroke="#0000ff" stroke-width="1.35" stroke-linejoin="round" points="1257.55,546.66 1259.64,545.5 1261.38,544.92 1263.12,545.5 1264.85,546.08 1266.59,546.66 1267.75,541.44 1269.49,539.7 1271.23,537.97 1272.39,537.39 1273.55,543.18 1275.29,543.76 1277.03,544.34 1278.77,544.92 1280.5,545.5 1282.82,546.08 1285.14,546.66 1287.46,547.01 1289.78,547.24 1292.1,546.31 1294.42,544.92 1296.74,543.99 1299.05,543.76 1301.37,544.34 1303.69,544.34 1306.01,544.92 1308.33,546.08 1310.65,546.66 1312.97,547.01 1315.28,547.01 1317.6,547.24 1319.92,546.66 1321.66,546.08 1323.4,544.92 1325.14,544.34 1326.88,543.99 1328.62,544.34 1330.36,544.92 1332.09,545.85 1333.83,546.66 1335.57,547.24 1337.31,547.24 1339.05,546.66 1340.79,545.85 1342.53,545.5 1344.27,544.92 1346.01,544.34 1347.74,544.92 1348.9,543.18 1350.64,539.12 1352.38,535.65 1354.12,532.75 1355.86,530.43 1357.6,528.69 1359.34,527.53 1361.08,527.53 1362.82,526.95 1364.55,526.95 1365.71,528.69 1366.87,530.43 1368.61,531.59 1370.35,531.01 1372.09,528.69 1373.25,527.53 1374.41,531.01 1376.15,537.97 1377.89,542.6 1379.63,544.92 1381.36,542.6 1383.1,537.97 1384.84,533.33 1386.58,532.17 1388.32,533.33 1390.06,533.91 1391.8,533.33 1393.54,533.33 1395.28,532.17 1397.02,531.59 1398.75,531.01 1401.07,531.01 1402.81,530.78 1404.55,530.43 1406.29,529.85 1407,530.39 1409.06,531.76 1411.13,533.55 1413.19,533.83 1415.26,534.52 1417.32,535.2 1419.39,536.58 1421.45,537.68 1423.52,538.65 1425.58,539.33 1427.65,540.02 1429.71,540.44 1431.78,540.71 1433.84,540.99 1435.91,540.02 1437.97,539.33 1440.04,539.33 1442.1,540.44 1444.17,540.71 1446.23,544.15 1448.3,548.97 1450.36,551.72 1451.74,548.97 1453.11,544.84 1455.18,539.33 1457.24,533.83 1459.31,530.39 1461.37,529.01 1463.44,528.6 1465.5,529.7 1467.57,532.45 1469.63,535.89 1471.7,540.02 1473.76,543.46 1475.83,544.84 1477.89,544.56 1479.96,543.74 1482.02,542.78 1484.09,541.4 1486.15,539.33 1488.22,538.65 1490.28,537.96 1492.35,536.58 1494.41,534.52 1496.48,532.45 1498.54,531.07 1500.61,528.32 1502.67,526.94 1504.74,526.26 1506.8,523.5 1508.18,522.82 1509.55,525.57 1511.62,533.83 1512.99,539.33 1514.37,539.33 1516.44,533.83 1518.5,529.7 1519.88,529.01 1521.94,530.39 1524.01,532.45 1526.07,535.2 1528.14,537.96 1530.2,540.71 1532.27,542.78 1533.64,540.71 1535.02,525.57 1536.4,522.82 1538.05,520.75 1539.15,522.82 1540.53,529.7 1542.59,533.14 1544.66,536.58 1546.72,540.71 1548.79,535.2 1550.85,528.32 1552.23,526.26 1554.29,531.07 1556.36,536.58 1558.42,542.09 1560.49,542.78"/>
<polyline clip-path="url(#ch)" fill="none" stroke="#000000" stroke-width="1.35" stroke-linejoin="round" points="1257.39,544.93 1258.55,543.19 1260.29,543.77 1261.45,545.51 1263.19,546.67 1264.93,546.09 1266.66,547.25 1268.4,546.67 1270.14,545.51 1271.88,546.67 1273.62,547.25 1275.36,546.67 1277.1,546.09 1278.84,546.09 1280.58,546.32 1281.74,546.09 1282.9,542.61 1284.64,543.19 1286.37,544.93 1288.11,546.09 1290.43,546.09 1292.75,546.67 1295.07,547.83 1298.55,547.83 1302.03,547.83 1303.77,547.83 1305.51,544.93 1307.24,545.51 1308.98,546.09 1310.72,547.01 1312.46,546.09 1314.78,546.09 1317.1,544.35 1318.84,543.77 1320,543.19 1321.16,547.01 1322.32,543.77 1324.06,543.77 1325.79,543.19 1326.95,537.97 1328.11,536.81 1329.27,529.28 1331.01,528.12 1332.17,526.38 1333.33,534.49 1334.49,542.61 1335.65,540.29 1336.81,533.33 1337.97,525.8 1339.71,524.64 1340.87,518.26 1342.03,517.1 1343.19,518.26 1344.35,521.16 1344.93,517.1 1346.08,522.9 1347.24,521.74 1348.4,524.64 1349.56,527.54 1351.88,528.12 1354.2,529.28 1355.94,530.43 1357.68,533.33 1359.42,532.75 1360.58,529.86 1361.74,528.12 1363.48,529.28 1364.64,532.17 1365.79,535.65 1366.95,543.19 1368.69,544.35 1369.85,548.41 1371.59,547.83 1373.33,547.25 1375.07,548.41 1377.39,548.99 1379.13,549.33 1380.29,544.93 1381.45,542.03 1383.19,540.29 1384.93,539.71 1386.66,539.71 1388.98,540.06 1391.3,540.29 1393.62,540.29 1395.94,540.06 1397.33,535.65 1398.84,539.13 1401.16,539.71 1403.48,539.71 1405.65,540.01 1407.71,539.32 1409.09,542.76 1411.84,545.51 1415.28,546.2 1418.04,546.89 1420.1,546.2 1420.79,547.58 1422.17,550.33 1424.92,549.64 1429.05,548.68 1433.18,548.27 1435.93,548.95 1438.68,549.64 1441.43,550.61 1444.19,550.33 1446.94,550.33 1449.69,551.02 1451.76,551.02 1453.13,555.15 1454.51,551.71 1456.57,551.02 1458.64,550.33 1460.7,548.27 1463.45,548.27 1466.21,547.58 1468.96,547.3 1471.71,546.89 1473.78,544.83 1475.15,546.89 1476.53,546.2 1478.59,540.01 1480.66,536.57 1482.72,535.88 1484.1,534.5 1484.79,532.44 1486.16,535.88 1487.54,535.88 1488.92,528.31 1490.29,524.87 1491.67,528.31 1493.05,527.62 1494.42,528.31 1496.49,526.93 1497.86,524.18 1499.24,519.36 1500.62,520.05 1501.99,521.43 1504.06,520.05 1506.12,520.05 1507.5,518.68 1508.18,484.27 1508.87,484.96 1509.56,492.53 1510.25,503.54 1510.94,515.92 1511.63,513.17 1512.31,515.92 1513,497.34 1513.69,506.29 1514.38,514.55 1515.75,517.3 1517.82,520.05 1519.88,521.43 1521.95,522.8 1524.01,524.87 1526.08,526.25 1527.45,528.31 1528.83,526.93 1530.21,529.69 1531.58,529.69 1532.96,532.44 1534.33,535.88 1535.71,537.26 1537.09,537.94 1538.46,540.7 1539.84,542.07 1541.9,542.07 1543.97,543.45 1546.03,546.2 1548.1,543.45 1550.16,542.76 1552.23,543.45 1554.29,542.76 1556.36,544.83 1557.73,544.14 1559.11,546.2 1560.48,542.07 1561.17,537.94"/>
<rect x="1257.65" y="374.5" width="303.9" height="199.9" fill="none" stroke="#000" stroke-width="0.8"/>
<text x="1251.85" y="577.7" text-anchor="end">0</text>
<text x="1251.85" y="551.05" text-anchor="end">20</text>
<text x="1251.85" y="524.39" text-anchor="end">40</text>
<text x="1251.85" y="497.74" text-anchor="end">60</text>
<text x="1251.85" y="471.09" text-anchor="end">80</text>
<text x="1251.85" y="444.43" text-anchor="end">100</text>
<text x="1251.85" y="417.78" text-anchor="end">120</text>
<text x="1251.85" y="391.13" text-anchor="end">140</text>
<text transform="translate(1257.05,585.9) rotate(-30)" text-anchor="end">04-09 00</text>
<text transform="translate(1295.04,585.9) rotate(-30)" text-anchor="end">04-09 03</text>
<text transform="translate(1333.03,585.9) rotate(-30)" text-anchor="end">04-09 06</text>
<text transform="translate(1371.01,585.9) rotate(-30)" text-anchor="end">04-09 09</text>
<text transform="translate(1409,585.9) rotate(-30)" text-anchor="end">04-09 12</text>
<text transform="translate(1446.99,585.9) rotate(-30)" text-anchor="end">04-09 15</text>
<text transform="translate(1484.98,585.9) rotate(-30)" text-anchor="end">04-09 18</text>
<text transform="translate(1522.96,585.9) rotate(-30)" text-anchor="end">04-09 21</text>
<text transform="translate(1560.95,585.9) rotate(-30)" text-anchor="end">04-10 00</text>
<path d="M1254.75,574.4H1257.65 M1254.75,547.75H1257.65 M1254.75,521.09H1257.65 M1254.75,494.44H1257.65 M1254.75,467.79H1257.65 M1254.75,441.13H1257.65 M1254.75,414.48H1257.65 M1254.75,387.83H1257.65 M1257.65,574.4V577.3 M1295.64,574.4V577.3 M1333.62,574.4V577.3 M1371.61,574.4V577.3 M1409.6,574.4V577.3 M1447.59,574.4V577.3 M1485.58,574.4V577.3 M1523.56,574.4V577.3 M1561.55,574.4V577.3" stroke="#000" stroke-width="0.8" fill="none"/>
<text x="1409.6" y="617.1" text-anchor="middle">Time Stamp</text>
<text transform="translate(1230.45,474.45) rotate(-90)" text-anchor="middle">RT-LONGIL($/MWh)</text>
<rect x="1482.58" y="378.5" width="74.57" height="40" rx="1.8" fill="#fff" fill-opacity="0.8" stroke="#ccc" stroke-width="0.8"/>
<path d="M1485.48,385.5h18.1" stroke="#ff0000" stroke-width="1.35"/>
<text x="1510.28" y="388.7">WIAE</text>
<path d="M1485.48,397.95h18.1" stroke="#0000ff" stroke-width="1.35"/>
<text x="1510.28" y="401.15">DeepVAR</text>
<path d="M1485.48,410.4h18.1" stroke="#000000" stroke-width="1.35"/>
<text x="1510.28" y="413.6">true value</text>
</g>
<text x="1404.55" y="680.9" text-anchor="middle" font-family="'Liberation Serif', serif" font-size="24.1">(h) DeepVAR</text>
</svg>
</body></html>
